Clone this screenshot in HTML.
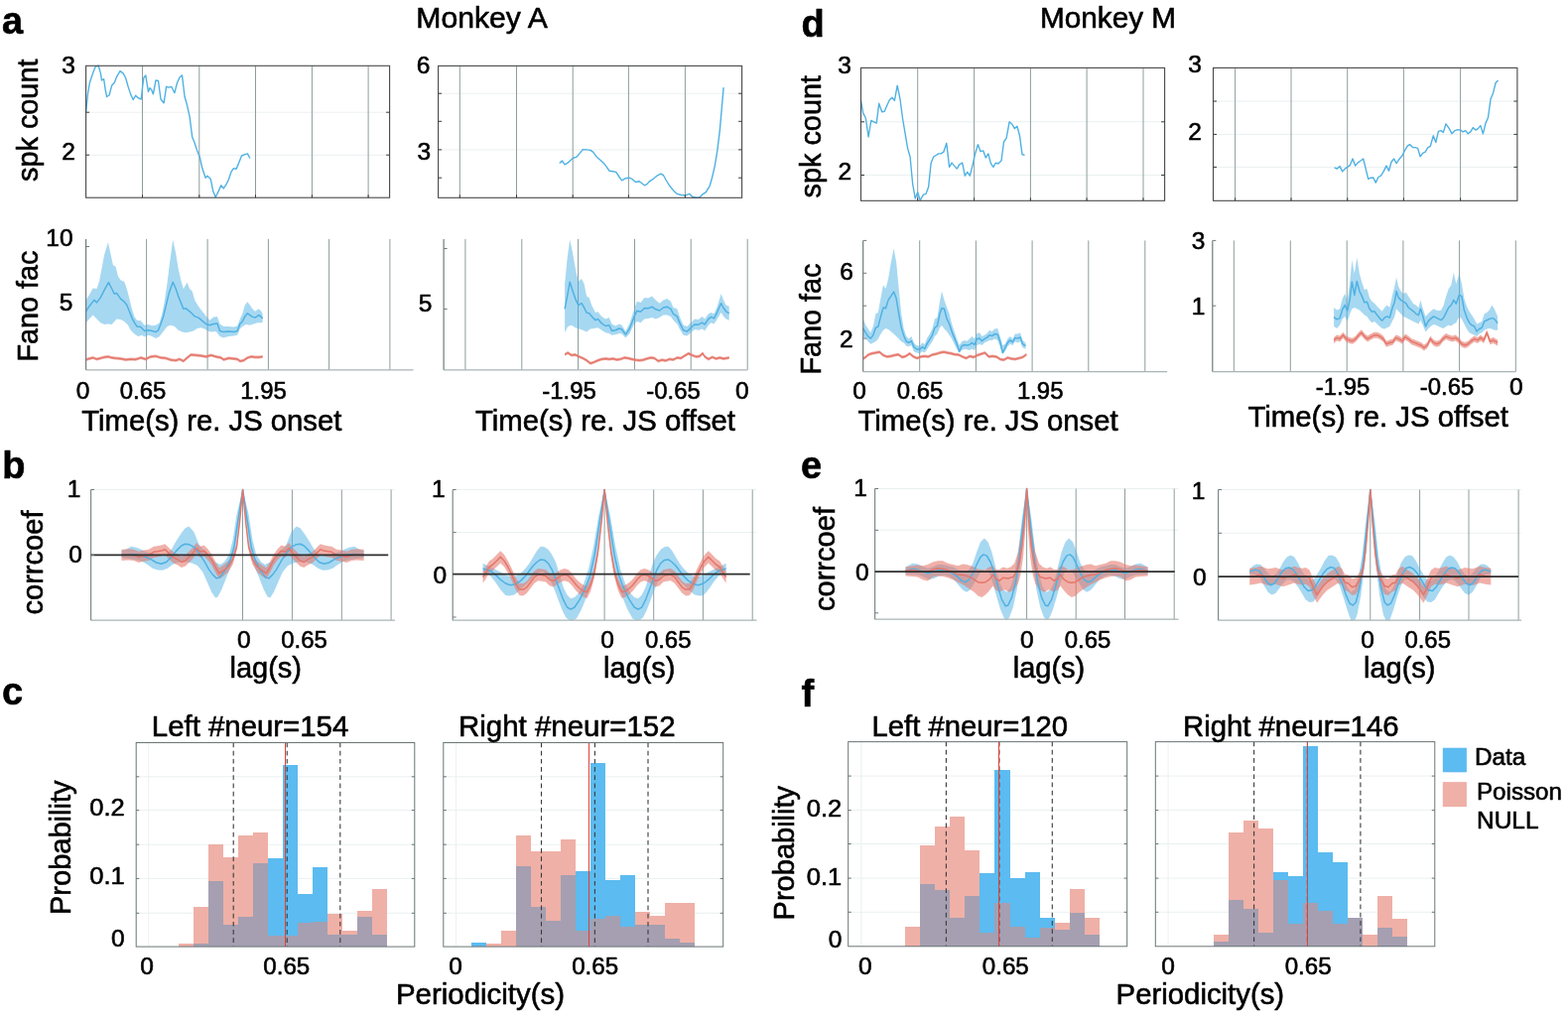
<!DOCTYPE html>
<html><head><meta charset="utf-8"><title>Figure</title>
<style>html,body{margin:0;padding:0;background:#fff}svg{display:block}text{font-family:"Liberation Sans",sans-serif;stroke:#000;stroke-width:.6px;stroke-linejoin:round}</style>
</head><body>
<svg width="1580" height="1028" viewBox="0 0 1580 1028">
<rect width="1580" height="1028" fill="#fff"/>
<text x="419.3" y="28.4" font-size="29" text-anchor="start" fill="#000" textLength="132.5" lengthAdjust="spacingAndGlyphs">Monkey A</text>
<text x="1048.0" y="28.4" font-size="29" text-anchor="start" fill="#000" textLength="137.0" lengthAdjust="spacingAndGlyphs">Monkey M</text>
<text x="2.0" y="33.7" font-size="38" text-anchor="start" fill="#000" font-weight="bold">a</text>
<text x="2.2" y="481.8" font-size="38" text-anchor="start" fill="#000" font-weight="bold">b</text>
<text x="2.0" y="709.7" font-size="38" text-anchor="start" fill="#000" font-weight="bold">c</text>
<text x="807.5" y="37.0" font-size="38" text-anchor="start" fill="#000" font-weight="bold">d</text>
<text x="807.0" y="481.7" font-size="38" text-anchor="start" fill="#000" font-weight="bold">e</text>
<text x="807.5" y="711.6" font-size="38" text-anchor="start" fill="#000" font-weight="bold">f</text>
<line x1="86.6" y1="113.2" x2="392.6" y2="113.2" stroke="#eaf0f0" stroke-width="1" />
<line x1="86.6" y1="156.2" x2="392.6" y2="156.2" stroke="#eaf0f0" stroke-width="1" />
<line x1="143.5" y1="66.3" x2="143.5" y2="199.2" stroke="#8f9d9d" stroke-width="1" />
<line x1="200.8" y1="66.3" x2="200.8" y2="199.2" stroke="#8f9d9d" stroke-width="1" />
<line x1="257.5" y1="66.3" x2="257.5" y2="199.2" stroke="#8f9d9d" stroke-width="1" />
<line x1="314.4" y1="66.3" x2="314.4" y2="199.2" stroke="#8f9d9d" stroke-width="1" />
<line x1="371.1" y1="66.3" x2="371.1" y2="199.2" stroke="#8f9d9d" stroke-width="1" />
<polyline points="86.6,112.7 88.6,93.7 90.4,83.5 93.7,73.4 96.2,67.1 99.2,66.3 101.3,73.4 102.5,81.0 104.6,79.7 106.3,91.1 107.6,97.5 110.1,95.7 112.7,86.1 115.2,83.5 117.7,77.2 121.0,71.6 124.1,73.9 126.6,78.5 129.1,87.3 131.6,94.9 134.2,100.5 136.7,96.2 139.2,98.7 142.3,100.0 143.5,88.6 144.8,78.5 146.8,75.9 149.4,92.4 151.1,88.6 152.7,90.6 154.4,94.9 157.0,81.0 159.5,81.5 162.0,100.0 165.1,103.8 167.6,87.3 170.1,88.1 172.7,87.3 175.9,93.7 178.5,83.5 181.0,78.0 183.5,75.9 186.1,97.5 188.6,106.3 191.1,117.7 193.7,138.0 196.2,144.3 198.7,151.9 201.3,158.2 203.8,169.6 207.1,179.2 208.9,177.2 212.2,180.3 214.7,192.4 217.2,198.7 220.3,192.4 222.8,186.8 225.3,189.9 227.8,186.1 230.4,181.0 232.9,173.4 235.4,169.6 238.0,170.4 240.5,164.6 243.5,157.0 246.8,155.7 249.4,154.9 251.9,159.5" fill="none" stroke="#4fb1e3" stroke-width="1.4" stroke-linejoin="round"/>
<rect x="86.6" y="66.3" width="306.0" height="132.9" fill="none" stroke="#484848" stroke-width="1.1"/>
<line x1="86.6" y1="113.2" x2="90.1" y2="113.2" stroke="#3a3a3a" stroke-width="1" />
<line x1="389.1" y1="113.2" x2="392.6" y2="113.2" stroke="#3a3a3a" stroke-width="1" />
<line x1="86.6" y1="156.2" x2="90.1" y2="156.2" stroke="#3a3a3a" stroke-width="1" />
<line x1="389.1" y1="156.2" x2="392.6" y2="156.2" stroke="#3a3a3a" stroke-width="1" />
<line x1="143.5" y1="196.2" x2="143.5" y2="199.2" stroke="#3a3a3a" stroke-width="1" />
<line x1="200.8" y1="196.2" x2="200.8" y2="199.2" stroke="#3a3a3a" stroke-width="1" />
<line x1="257.5" y1="196.2" x2="257.5" y2="199.2" stroke="#3a3a3a" stroke-width="1" />
<line x1="314.4" y1="196.2" x2="314.4" y2="199.2" stroke="#3a3a3a" stroke-width="1" />
<line x1="371.1" y1="196.2" x2="371.1" y2="199.2" stroke="#3a3a3a" stroke-width="1" />
<line x1="441.6" y1="94.2" x2="747.6" y2="94.2" stroke="#eaf0f0" stroke-width="1" />
<line x1="441.6" y1="150.9" x2="747.6" y2="150.9" stroke="#eaf0f0" stroke-width="1" />
<line x1="463.3" y1="66.4" x2="463.3" y2="199.3" stroke="#8f9d9d" stroke-width="1" />
<line x1="520.5" y1="66.4" x2="520.5" y2="199.3" stroke="#8f9d9d" stroke-width="1" />
<line x1="577.2" y1="66.4" x2="577.2" y2="199.3" stroke="#8f9d9d" stroke-width="1" />
<line x1="633.4" y1="66.4" x2="633.4" y2="199.3" stroke="#8f9d9d" stroke-width="1" />
<line x1="690.4" y1="66.4" x2="690.4" y2="199.3" stroke="#8f9d9d" stroke-width="1" />
<polyline points="563.8,164.6 566.3,162.0 569.1,165.8 572.2,164.1 577.2,159.5 581.0,158.2 584.3,154.4 587.3,150.6 591.1,150.9 594.9,151.4 597.5,153.2 601.3,158.2 605.1,161.5 608.9,165.1 611.4,168.4 613.9,172.2 617.7,172.7 620.8,173.4 624.1,178.5 626.6,181.8 630.4,179.7 634.2,179.2 636.7,180.3 640.5,183.5 644.3,182.8 646.8,184.8 649.4,186.8 651.9,185.6 654.4,182.8 658.2,180.3 662.0,177.2 665.8,175.2 668.4,176.5 670.9,181.0 674.7,187.3 678.5,191.9 682.3,195.4 686.1,196.5 691.1,196.7 694.9,195.4 697.5,198.2 701.3,199.2 704.6,199.2 707.6,196.2 711.4,193.7 715.2,187.3 717.7,178.5 720.3,167.1 722.8,151.9 725.3,131.6 727.3,108.9 729.1,88.1" fill="none" stroke="#4fb1e3" stroke-width="1.4" stroke-linejoin="round"/>
<rect x="441.6" y="66.4" width="306.0" height="132.9" fill="none" stroke="#484848" stroke-width="1.1"/>
<line x1="441.6" y1="94.2" x2="445.1" y2="94.2" stroke="#3a3a3a" stroke-width="1" />
<line x1="744.1" y1="94.2" x2="747.6" y2="94.2" stroke="#3a3a3a" stroke-width="1" />
<line x1="441.6" y1="122.3" x2="445.1" y2="122.3" stroke="#3a3a3a" stroke-width="1" />
<line x1="744.1" y1="122.3" x2="747.6" y2="122.3" stroke="#3a3a3a" stroke-width="1" />
<line x1="441.6" y1="150.9" x2="445.1" y2="150.9" stroke="#3a3a3a" stroke-width="1" />
<line x1="744.1" y1="150.9" x2="747.6" y2="150.9" stroke="#3a3a3a" stroke-width="1" />
<line x1="441.6" y1="179.2" x2="445.1" y2="179.2" stroke="#3a3a3a" stroke-width="1" />
<line x1="744.1" y1="179.2" x2="747.6" y2="179.2" stroke="#3a3a3a" stroke-width="1" />
<line x1="463.3" y1="196.3" x2="463.3" y2="199.3" stroke="#3a3a3a" stroke-width="1" />
<line x1="520.5" y1="196.3" x2="520.5" y2="199.3" stroke="#3a3a3a" stroke-width="1" />
<line x1="577.2" y1="196.3" x2="577.2" y2="199.3" stroke="#3a3a3a" stroke-width="1" />
<line x1="633.4" y1="196.3" x2="633.4" y2="199.3" stroke="#3a3a3a" stroke-width="1" />
<line x1="690.4" y1="196.3" x2="690.4" y2="199.3" stroke="#3a3a3a" stroke-width="1" />
<line x1="867.5" y1="122.8" x2="1173.6" y2="122.8" stroke="#eaf0f0" stroke-width="1" />
<line x1="867.5" y1="176.5" x2="1173.6" y2="176.5" stroke="#eaf0f0" stroke-width="1" />
<line x1="924.7" y1="68.4" x2="924.7" y2="202.3" stroke="#8f9d9d" stroke-width="1" />
<line x1="981.6" y1="68.4" x2="981.6" y2="202.3" stroke="#8f9d9d" stroke-width="1" />
<line x1="1038.4" y1="68.4" x2="1038.4" y2="202.3" stroke="#8f9d9d" stroke-width="1" />
<line x1="1095.1" y1="68.4" x2="1095.1" y2="202.3" stroke="#8f9d9d" stroke-width="1" />
<line x1="1152.0" y1="68.4" x2="1152.0" y2="202.3" stroke="#8f9d9d" stroke-width="1" />
<polyline points="867.5,101.3 869.7,113.9 872.3,119.0 875.1,138.0 877.8,121.5 880.6,122.8 883.2,124.1 885.7,104.3 888.7,112.7 891.3,112.2 893.8,106.3 896.3,100.8 898.9,98.2 901.4,101.3 904.2,86.1 907.0,100.0 909.5,119.0 912.0,134.2 914.6,149.4 917.1,158.2 919.6,184.8 922.2,200.0 924.7,193.7 927.2,202.0 930.5,196.2 933.0,195.4 935.6,188.6 938.1,164.6 940.6,158.2 943.2,156.5 945.7,154.9 948.2,154.9 950.8,153.2 953.8,144.3 956.6,168.4 959.1,164.1 961.6,167.1 964.2,170.1 966.7,165.8 969.7,164.1 972.3,177.2 974.8,173.4 977.3,177.2 979.9,167.1 982.4,155.7 985.4,145.6 988.0,152.7 990.8,151.9 993.3,159.0 995.8,154.9 998.4,164.6 1000.9,168.4 1003.4,164.1 1005.9,165.1 1009.0,162.0 1011.5,143.0 1014.1,139.2 1017.1,122.8 1019.9,125.3 1022.4,129.6 1024.9,127.3 1027.5,136.7 1030.0,155.7 1032.5,156.2" fill="none" stroke="#4fb1e3" stroke-width="1.4" stroke-linejoin="round"/>
<rect x="867.5" y="68.4" width="306.1" height="133.9" fill="none" stroke="#484848" stroke-width="1.1"/>
<line x1="867.5" y1="122.8" x2="871.0" y2="122.8" stroke="#3a3a3a" stroke-width="1" />
<line x1="1170.1" y1="122.8" x2="1173.6" y2="122.8" stroke="#3a3a3a" stroke-width="1" />
<line x1="867.5" y1="176.5" x2="871.0" y2="176.5" stroke="#3a3a3a" stroke-width="1" />
<line x1="1170.1" y1="176.5" x2="1173.6" y2="176.5" stroke="#3a3a3a" stroke-width="1" />
<line x1="924.7" y1="199.3" x2="924.7" y2="202.3" stroke="#3a3a3a" stroke-width="1" />
<line x1="981.6" y1="199.3" x2="981.6" y2="202.3" stroke="#3a3a3a" stroke-width="1" />
<line x1="1038.4" y1="199.3" x2="1038.4" y2="202.3" stroke="#3a3a3a" stroke-width="1" />
<line x1="1095.1" y1="199.3" x2="1095.1" y2="202.3" stroke="#3a3a3a" stroke-width="1" />
<line x1="1152.0" y1="199.3" x2="1152.0" y2="202.3" stroke="#3a3a3a" stroke-width="1" />
<line x1="1222.5" y1="102.0" x2="1528.9" y2="102.0" stroke="#eaf0f0" stroke-width="1" />
<line x1="1222.5" y1="135.4" x2="1528.9" y2="135.4" stroke="#eaf0f0" stroke-width="1" />
<line x1="1222.5" y1="168.4" x2="1528.9" y2="168.4" stroke="#eaf0f0" stroke-width="1" />
<line x1="1244.6" y1="68.4" x2="1244.6" y2="202.3" stroke="#8f9d9d" stroke-width="1" />
<line x1="1301.0" y1="68.4" x2="1301.0" y2="202.3" stroke="#8f9d9d" stroke-width="1" />
<line x1="1357.7" y1="68.4" x2="1357.7" y2="202.3" stroke="#8f9d9d" stroke-width="1" />
<line x1="1414.4" y1="68.4" x2="1414.4" y2="202.3" stroke="#8f9d9d" stroke-width="1" />
<line x1="1471.6" y1="68.4" x2="1471.6" y2="202.3" stroke="#8f9d9d" stroke-width="1" />
<polyline points="1344.6,168.9 1347.1,170.1 1350.1,167.6 1352.7,172.9 1355.2,170.1 1357.7,168.4 1360.3,166.6 1363.0,160.0 1365.6,167.1 1368.1,164.1 1371.1,162.0 1373.7,160.0 1376.2,170.1 1378.7,180.3 1381.3,179.2 1383.8,179.0 1386.3,184.1 1388.9,178.5 1391.4,177.2 1393.9,173.4 1397.0,167.1 1399.5,172.2 1402.0,163.3 1404.6,160.0 1407.1,164.6 1409.6,160.8 1412.9,157.0 1415.4,151.9 1418.0,147.3 1420.5,145.6 1423.5,148.6 1426.1,148.6 1428.6,149.4 1431.1,157.7 1433.7,154.4 1436.2,153.2 1438.7,148.9 1441.3,147.3 1444.3,136.7 1446.8,143.5 1449.4,132.4 1451.9,131.6 1454.4,133.4 1457.0,124.8 1460.0,129.1 1463.0,134.7 1466.1,131.6 1469.1,130.6 1471.6,131.1 1474.2,132.9 1476.7,131.6 1479.2,134.7 1481.8,132.9 1484.3,128.6 1486.8,131.1 1489.4,129.6 1491.9,126.6 1494.4,134.9 1497.0,124.1 1499.5,118.5 1502.0,100.0 1504.6,93.7 1507.1,83.5 1509.6,81.0" fill="none" stroke="#4fb1e3" stroke-width="1.4" stroke-linejoin="round"/>
<rect x="1222.5" y="68.4" width="306.4" height="133.9" fill="none" stroke="#484848" stroke-width="1.1"/>
<line x1="1222.5" y1="102.0" x2="1226.0" y2="102.0" stroke="#3a3a3a" stroke-width="1" />
<line x1="1525.4" y1="102.0" x2="1528.9" y2="102.0" stroke="#3a3a3a" stroke-width="1" />
<line x1="1222.5" y1="135.4" x2="1226.0" y2="135.4" stroke="#3a3a3a" stroke-width="1" />
<line x1="1525.4" y1="135.4" x2="1528.9" y2="135.4" stroke="#3a3a3a" stroke-width="1" />
<line x1="1222.5" y1="168.4" x2="1226.0" y2="168.4" stroke="#3a3a3a" stroke-width="1" />
<line x1="1525.4" y1="168.4" x2="1528.9" y2="168.4" stroke="#3a3a3a" stroke-width="1" />
<line x1="1244.6" y1="199.3" x2="1244.6" y2="202.3" stroke="#3a3a3a" stroke-width="1" />
<line x1="1301.0" y1="199.3" x2="1301.0" y2="202.3" stroke="#3a3a3a" stroke-width="1" />
<line x1="1357.7" y1="199.3" x2="1357.7" y2="202.3" stroke="#3a3a3a" stroke-width="1" />
<line x1="1414.4" y1="199.3" x2="1414.4" y2="202.3" stroke="#3a3a3a" stroke-width="1" />
<line x1="1471.6" y1="199.3" x2="1471.6" y2="202.3" stroke="#3a3a3a" stroke-width="1" />
<text x="75.8" y="74.4" font-size="24.5" text-anchor="end" fill="#000">3</text>
<text x="75.8" y="160.5" font-size="24.5" text-anchor="end" fill="#000">2</text>
<text x="433.4" y="74.0" font-size="24.5" text-anchor="end" fill="#000">6</text>
<text x="434.2" y="160.7" font-size="24.5" text-anchor="end" fill="#000">3</text>
<text x="858.0" y="73.5" font-size="24.5" text-anchor="end" fill="#000">3</text>
<text x="858.2" y="181.0" font-size="24.5" text-anchor="end" fill="#000">2</text>
<text x="1211.0" y="73.2" font-size="24.5" text-anchor="end" fill="#000">3</text>
<text x="1211.0" y="140.8" font-size="24.5" text-anchor="end" fill="#000">2</text>
<text x="38.2" y="183.0" font-size="29.5" text-anchor="start" fill="#000" textLength="123.5" lengthAdjust="spacingAndGlyphs" transform="rotate(-90 38.2 183.0)">spk count</text>
<text x="826.5" y="199.5" font-size="29.5" text-anchor="start" fill="#000" textLength="123.5" lengthAdjust="spacingAndGlyphs" transform="rotate(-90 826.5 199.5)">spk count</text>
<line x1="147.6" y1="240.9" x2="147.6" y2="372.8" stroke="#8f9d9d" stroke-width="1" />
<line x1="209.1" y1="240.9" x2="209.1" y2="372.8" stroke="#8f9d9d" stroke-width="1" />
<line x1="270.4" y1="240.9" x2="270.4" y2="372.8" stroke="#8f9d9d" stroke-width="1" />
<line x1="331.6" y1="240.9" x2="331.6" y2="372.8" stroke="#8f9d9d" stroke-width="1" />
<line x1="392.9" y1="240.9" x2="392.9" y2="372.8" stroke="#8f9d9d" stroke-width="1" />
<polygon points="86.6,302.4 89.9,297.3 93.7,290.5 97.5,291.0 100.0,283.4 102.5,270.8 105.1,256.8 108.9,244.2 111.4,255.6 113.9,267.0 116.5,268.7 119.0,278.4 121.5,282.2 125.3,283.9 127.8,291.0 130.4,301.1 132.9,311.3 135.4,318.9 138.0,322.7 141.8,323.2 145.6,327.7 149.4,327.0 153.2,328.2 157.0,327.7 160.8,325.2 163.3,316.3 165.8,303.7 168.4,285.9 170.9,265.7 174.2,241.6 177.2,255.6 179.7,270.8 182.3,282.2 184.8,291.0 188.6,284.7 191.1,291.0 193.7,293.5 196.2,302.4 200.0,308.7 203.8,313.8 207.6,318.4 211.4,322.7 215.2,319.4 219.0,318.9 221.5,326.5 225.3,329.0 230.4,329.0 235.4,329.5 239.2,328.5 241.8,321.4 244.3,316.3 246.8,307.5 249.4,304.2 251.9,307.5 254.4,311.3 257.0,313.8 260.8,311.3 263.3,313.8 264.6,316.3 264.6,325.2 259.5,325.2 255.7,326.5 251.9,327.7 248.1,327.0 244.3,329.0 241.8,331.5 239.2,337.8 235.4,338.6 230.4,339.1 225.3,340.4 221.5,339.1 217.7,334.1 213.9,334.6 210.1,334.1 206.3,331.5 202.5,330.3 198.7,331.0 194.9,333.5 191.1,334.6 187.3,335.3 183.5,334.6 179.7,332.8 175.9,329.0 172.2,327.7 168.4,329.0 164.6,334.1 160.8,339.1 157.0,341.1 153.2,339.1 149.4,337.8 145.6,339.6 143.0,337.8 139.2,339.1 135.4,336.6 131.6,332.8 129.1,327.7 125.3,323.9 121.5,321.9 117.7,321.4 115.2,323.9 112.7,327.0 108.9,326.5 105.1,327.0 101.3,325.2 97.5,321.4 93.7,317.6 89.9,321.4 86.6,325.2" fill="#4fb1e3" fill-opacity="0.5"/>
<polyline points="86.6,313.8 89.9,308.7 94.9,302.4 97.5,304.9 101.3,299.9 105.1,292.3 109.4,284.7 112.7,291.0 115.2,296.1 117.7,295.6 121.5,301.1 125.3,304.2 127.8,307.5 130.4,313.8 132.9,320.1 135.4,325.2 138.0,329.0 141.8,329.5 145.6,333.5 149.4,332.8 153.2,333.5 157.0,334.6 159.5,332.8 162.0,326.5 164.6,318.9 167.1,308.7 170.1,296.1 174.2,284.2 177.2,291.0 179.7,298.6 182.3,304.9 184.8,311.3 187.3,310.8 191.1,313.8 193.7,316.3 196.2,318.9 200.0,320.1 203.8,323.4 207.6,326.5 211.4,327.7 215.2,326.5 219.0,325.9 221.5,333.5 225.3,334.6 230.4,334.1 235.4,334.6 239.2,333.5 241.8,326.5 244.3,323.9 246.8,318.9 249.4,315.8 251.9,317.6 254.4,319.4 257.0,320.1 260.8,317.6 263.3,319.4 264.6,320.9" fill="none" stroke="#4fb1e3" stroke-width="1.5" stroke-linejoin="round"/>
<polygon points="86.6,360.9 89.9,359.9 93.7,359.1 97.5,360.4 101.3,359.6 105.1,358.4 108.9,357.9 112.7,359.1 116.5,359.6 121.5,359.9 126.6,360.9 131.6,360.4 136.7,360.7 141.8,359.1 146.8,360.4 151.9,357.9 157.0,357.4 162.0,359.1 167.1,359.6 172.2,361.2 177.2,361.7 181.0,360.4 184.8,362.4 188.6,359.1 192.4,356.1 197.5,356.6 202.5,357.1 207.6,357.9 212.7,356.6 217.7,357.9 222.8,359.1 225.3,360.9 230.4,359.6 235.4,359.9 239.2,360.4 241.8,362.4 245.6,361.7 249.4,359.1 253.2,357.9 257.0,358.4 260.8,358.6 264.6,357.9 264.6,360.9 260.8,361.6 257.0,361.4 253.2,360.9 249.4,362.1 245.6,364.7 241.8,365.4 239.2,363.4 235.4,362.9 230.4,362.6 225.3,363.9 222.8,362.1 217.7,360.9 212.7,359.6 207.6,360.9 202.5,360.1 197.5,359.6 192.4,359.1 188.6,362.1 184.8,365.4 181.0,363.4 177.2,364.7 172.2,364.2 167.1,362.6 162.0,362.1 157.0,360.4 151.9,360.9 146.8,363.4 141.8,362.1 136.7,363.7 131.6,363.4 126.6,363.9 121.5,362.9 116.5,362.6 112.7,362.1 108.9,360.9 105.1,361.4 101.3,362.6 97.5,363.4 93.7,362.1 89.9,362.9 86.6,363.9" fill="#e5776b" fill-opacity="0.6"/>
<polyline points="86.6,362.4 89.9,361.4 93.7,360.6 97.5,361.9 101.3,361.1 105.1,359.9 108.9,359.4 112.7,360.6 116.5,361.1 121.5,361.4 126.6,362.4 131.6,361.9 136.7,362.2 141.8,360.6 146.8,361.9 151.9,359.4 157.0,358.9 162.0,360.6 167.1,361.1 172.2,362.7 177.2,363.2 181.0,361.9 184.8,363.9 188.6,360.6 192.4,357.6 197.5,358.1 202.5,358.6 207.6,359.4 212.7,358.1 217.7,359.4 222.8,360.6 225.3,362.4 230.4,361.1 235.4,361.4 239.2,361.9 241.8,363.9 245.6,363.2 249.4,360.6 253.2,359.4 257.0,359.9 260.8,360.1 264.6,359.4" fill="none" stroke="#e5776b" stroke-width="1.5" stroke-linejoin="round"/>
<line x1="86.6" y1="372.8" x2="416.5" y2="372.8" stroke="#a9b4b4" stroke-width="1.3" />
<line x1="86.6" y1="240.9" x2="86.6" y2="372.8" stroke="#707a7c" stroke-width="1.2" />
<line x1="86.6" y1="248.5" x2="90.1" y2="248.5" stroke="#6f7c7c" stroke-width="1" />
<line x1="468.9" y1="240.9" x2="468.9" y2="372.8" stroke="#8f9d9d" stroke-width="1" />
<line x1="525.8" y1="240.9" x2="525.8" y2="372.8" stroke="#8f9d9d" stroke-width="1" />
<line x1="582.5" y1="240.9" x2="582.5" y2="372.8" stroke="#8f9d9d" stroke-width="1" />
<line x1="639.5" y1="240.9" x2="639.5" y2="372.8" stroke="#8f9d9d" stroke-width="1" />
<line x1="696.2" y1="240.9" x2="696.2" y2="372.8" stroke="#8f9d9d" stroke-width="1" />
<line x1="753.2" y1="240.9" x2="753.2" y2="372.8" stroke="#8f9d9d" stroke-width="1" />
<polygon points="569.1,285.9 571.6,260.6 574.2,241.6 577.2,255.6 580.3,273.3 582.8,283.4 586.1,280.9 588.6,285.9 591.1,298.6 593.7,299.9 596.2,307.5 600.0,315.1 602.5,314.3 606.3,318.9 610.1,321.4 613.9,320.1 616.5,326.5 620.3,328.5 624.1,326.5 626.6,327.7 630.4,334.1 634.2,326.5 636.7,318.9 639.2,311.3 641.8,303.7 645.6,304.9 649.4,299.9 653.2,300.6 657.0,298.6 660.8,302.4 664.6,305.7 668.4,302.4 672.2,301.1 675.9,303.7 678.5,310.0 682.3,311.3 684.8,318.9 688.6,327.7 692.4,329.0 696.2,325.2 700.0,321.4 703.8,321.9 707.6,318.9 710.1,321.4 713.9,316.3 716.5,315.1 719.5,316.3 722.8,308.7 726.6,296.1 729.1,302.4 731.6,307.5 734.7,308.7 734.7,322.7 731.6,321.4 729.1,318.9 726.6,315.1 722.8,321.4 719.5,326.5 716.5,325.2 713.9,327.7 710.1,333.5 707.6,331.5 703.8,332.8 700.0,332.0 696.2,335.3 692.4,338.6 688.6,337.8 684.8,331.5 682.3,326.5 678.5,322.7 675.9,318.9 672.2,317.6 668.4,317.6 664.6,320.1 660.8,321.4 657.0,320.1 653.2,320.9 649.4,321.4 645.6,325.2 641.8,323.9 639.2,326.5 636.7,331.5 634.2,336.6 630.4,340.4 626.6,336.6 624.1,336.1 620.3,337.3 616.5,337.8 613.9,336.1 610.1,335.3 606.3,332.8 602.5,330.3 598.7,331.0 594.9,331.5 591.1,334.6 587.3,332.8 583.5,331.5 579.7,330.3 575.9,327.7 572.2,329.0 569.1,335.3" fill="#4fb1e3" fill-opacity="0.5"/>
<polyline points="569.1,311.3 571.6,298.6 574.2,284.2 577.2,293.5 580.3,302.4 582.8,307.5 586.1,305.7 588.6,310.0 591.1,315.1 593.7,315.8 596.2,318.9 600.0,322.7 602.5,321.4 606.3,325.9 610.1,328.5 613.9,327.7 616.5,333.5 620.3,332.8 624.1,331.0 626.6,332.0 630.4,337.1 634.2,331.5 636.7,325.2 639.2,318.9 641.8,313.3 645.6,314.3 649.4,310.5 653.2,310.8 657.0,309.2 660.8,311.8 664.6,313.0 668.4,310.0 672.2,309.2 675.9,311.3 678.5,316.3 682.3,318.9 684.8,325.2 688.6,332.8 692.4,334.1 696.2,330.3 700.0,327.0 703.8,327.2 707.6,325.2 710.1,327.0 713.9,321.4 716.5,319.4 719.5,320.9 722.8,314.3 726.6,305.7 729.1,310.5 731.6,313.8 734.7,315.8" fill="none" stroke="#4fb1e3" stroke-width="1.5" stroke-linejoin="round"/>
<polygon points="569.1,355.8 572.2,354.1 575.9,356.6 579.7,356.1 583.5,357.9 587.3,359.6 591.1,361.7 594.9,364.7 598.7,363.4 602.5,361.7 606.3,360.4 610.1,359.9 613.9,360.4 617.7,359.9 621.5,360.9 625.3,360.4 629.1,359.1 632.9,359.6 636.7,360.4 640.5,361.2 644.3,361.7 648.1,361.2 651.9,359.9 655.7,359.1 659.5,359.6 663.3,362.4 667.1,361.2 670.9,361.9 674.7,360.4 678.5,360.9 682.3,359.1 686.1,359.6 689.9,357.1 693.7,354.8 697.5,356.6 701.3,357.9 705.1,357.4 708.1,354.6 710.1,357.9 713.9,360.4 717.7,358.4 721.5,359.9 725.3,359.1 729.1,359.9 734.7,359.1 734.7,362.1 729.1,362.9 725.3,362.1 721.5,362.9 717.7,361.4 713.9,363.4 710.1,360.9 708.1,357.6 705.1,360.4 701.3,360.9 697.5,359.6 693.7,357.8 689.9,360.1 686.1,362.6 682.3,362.1 678.5,363.9 674.7,363.4 670.9,364.9 667.1,364.2 663.3,365.4 659.5,362.6 655.7,362.1 651.9,362.9 648.1,364.2 644.3,364.7 640.5,364.2 636.7,363.4 632.9,362.6 629.1,362.1 625.3,363.4 621.5,363.9 617.7,362.9 613.9,363.4 610.1,362.9 606.3,363.4 602.5,364.7 598.7,366.4 594.9,367.7 591.1,364.7 587.3,362.6 583.5,360.9 579.7,359.1 575.9,359.6 572.2,357.1 569.1,358.8" fill="#e5776b" fill-opacity="0.6"/>
<polyline points="569.1,357.3 572.2,355.6 575.9,358.1 579.7,357.6 583.5,359.4 587.3,361.1 591.1,363.2 594.9,366.2 598.7,364.9 602.5,363.2 606.3,361.9 610.1,361.4 613.9,361.9 617.7,361.4 621.5,362.4 625.3,361.9 629.1,360.6 632.9,361.1 636.7,361.9 640.5,362.7 644.3,363.2 648.1,362.7 651.9,361.4 655.7,360.6 659.5,361.1 663.3,363.9 667.1,362.7 670.9,363.4 674.7,361.9 678.5,362.4 682.3,360.6 686.1,361.1 689.9,358.6 693.7,356.3 697.5,358.1 701.3,359.4 705.1,358.9 708.1,356.1 710.1,359.4 713.9,361.9 717.7,359.9 721.5,361.4 725.3,360.6 729.1,361.4 734.7,360.6" fill="none" stroke="#e5776b" stroke-width="1.5" stroke-linejoin="round"/>
<line x1="447.1" y1="372.8" x2="753.2" y2="372.8" stroke="#a9b4b4" stroke-width="1.3" />
<line x1="447.1" y1="240.9" x2="447.1" y2="372.8" stroke="#707a7c" stroke-width="1.2" />
<line x1="447.1" y1="250.5" x2="450.6" y2="250.5" stroke="#6f7c7c" stroke-width="1" />
<line x1="447.1" y1="311.5" x2="450.6" y2="311.5" stroke="#6f7c7c" stroke-width="1" />
<line x1="926.7" y1="242.4" x2="926.7" y2="374.6" stroke="#8f9d9d" stroke-width="1" />
<line x1="983.4" y1="242.4" x2="983.4" y2="374.6" stroke="#8f9d9d" stroke-width="1" />
<line x1="1040.1" y1="242.4" x2="1040.1" y2="374.6" stroke="#8f9d9d" stroke-width="1" />
<line x1="1096.8" y1="242.4" x2="1096.8" y2="374.6" stroke="#8f9d9d" stroke-width="1" />
<line x1="1153.8" y1="242.4" x2="1153.8" y2="374.6" stroke="#8f9d9d" stroke-width="1" />
<polygon points="869.7,321.4 872.3,327.7 874.8,331.5 877.3,335.3 879.9,329.0 882.4,316.3 884.9,315.1 887.5,299.9 890.0,287.2 892.5,291.0 895.1,280.9 897.6,265.7 900.6,250.5 903.2,264.4 905.7,291.0 908.2,316.3 910.8,331.5 913.3,339.1 915.8,341.6 918.4,339.1 920.9,345.4 923.4,348.0 926.7,348.7 929.2,345.4 931.8,346.7 934.3,340.4 936.8,336.6 939.4,331.5 941.9,321.4 944.4,320.1 947.0,303.7 949.0,293.5 951.5,302.4 954.1,310.0 956.6,316.3 959.1,326.5 961.6,334.1 964.2,341.6 966.7,348.0 969.2,344.2 971.8,342.9 974.3,343.7 976.8,341.6 979.4,339.1 981.9,341.6 984.4,336.1 987.0,335.3 989.5,339.1 992.0,337.8 994.6,336.1 997.1,332.8 999.6,334.1 1002.2,331.5 1005.2,331.0 1007.7,339.1 1010.3,348.0 1012.8,346.7 1015.3,341.6 1017.8,339.1 1020.4,341.6 1022.9,336.6 1025.4,336.6 1028.0,335.3 1030.5,342.9 1033.5,345.4 1033.5,351.8 1030.5,350.5 1028.0,344.2 1025.4,345.4 1022.9,344.2 1020.4,348.0 1017.8,346.7 1015.3,349.2 1012.8,354.3 1010.3,356.8 1007.7,349.2 1005.2,342.9 1002.2,341.6 999.6,342.9 997.1,342.9 994.6,344.2 992.0,345.4 989.5,348.0 987.0,346.7 984.4,348.0 981.9,353.0 979.4,351.8 976.8,353.0 974.3,352.3 971.8,351.8 969.2,353.0 966.7,355.6 964.2,351.8 961.6,346.7 959.1,341.6 956.6,337.8 954.1,334.1 951.5,331.5 949.0,327.7 947.0,330.3 944.4,336.6 941.9,339.1 939.4,344.2 936.8,348.0 934.3,351.8 931.8,355.6 929.2,354.3 926.7,356.3 923.4,355.6 920.9,354.3 918.4,348.0 915.8,349.2 913.3,348.7 910.8,345.4 908.2,344.2 905.7,341.6 903.2,339.1 900.6,336.6 897.6,334.1 895.1,332.0 892.5,331.0 890.0,332.8 887.5,336.6 884.9,341.6 882.4,344.2 879.9,345.4 877.3,346.7 874.8,344.2 872.3,341.6 869.7,339.1" fill="#4fb1e3" fill-opacity="0.5"/>
<polyline points="869.7,331.0 872.3,335.3 874.8,339.1 877.3,341.1 879.9,337.8 882.4,330.3 884.9,329.0 887.5,318.9 890.0,310.0 892.5,310.8 895.1,302.4 897.6,298.6 900.6,294.1 903.2,301.1 905.7,316.3 908.2,330.3 910.8,338.6 913.3,344.2 915.8,345.4 918.4,343.7 920.9,349.7 923.4,351.8 926.7,352.3 929.2,349.7 931.8,351.3 934.3,346.2 936.8,342.2 939.4,337.8 941.9,330.3 944.4,328.5 947.0,316.3 949.0,310.5 951.5,311.3 954.1,321.4 956.6,326.5 959.1,334.1 961.6,340.4 964.2,346.7 966.7,354.3 969.2,348.7 971.8,347.5 974.3,348.0 976.8,347.5 979.4,345.4 981.9,347.5 984.4,341.6 987.0,341.1 989.5,343.7 992.0,341.6 994.6,340.1 997.1,337.8 999.6,338.6 1002.2,336.6 1005.2,337.1 1007.7,344.2 1010.3,355.6 1012.8,350.5 1015.3,345.4 1017.8,342.9 1020.4,344.9 1022.9,340.4 1025.4,341.1 1028.0,339.9 1030.5,346.7 1033.5,348.7" fill="none" stroke="#4fb1e3" stroke-width="1.5" stroke-linejoin="round"/>
<polygon points="869.7,359.9 872.3,358.4 874.8,356.1 878.6,354.8 882.4,354.1 886.2,353.3 890.0,356.6 893.8,357.9 897.6,357.4 901.4,356.6 905.2,355.8 909.0,358.4 912.8,357.4 916.6,354.8 920.4,357.9 924.2,359.6 928.0,357.9 931.8,357.4 935.6,357.9 939.4,356.1 943.2,355.3 947.0,354.1 950.8,353.3 954.6,354.1 958.4,354.8 962.2,355.8 965.9,356.1 969.7,357.9 973.5,359.6 977.3,357.4 981.1,358.4 984.9,356.6 988.7,355.3 992.5,354.1 996.3,357.9 1000.1,357.4 1003.9,357.9 1007.7,360.4 1011.5,361.2 1015.3,359.1 1019.1,359.9 1022.9,360.4 1026.7,359.6 1030.5,358.4 1034.3,355.8 1034.3,358.8 1030.5,361.4 1026.7,362.6 1022.9,363.4 1019.1,362.9 1015.3,362.1 1011.5,364.2 1007.7,363.4 1003.9,360.9 1000.1,360.4 996.3,360.9 992.5,357.1 988.7,358.3 984.9,359.6 981.1,361.4 977.3,360.4 973.5,362.6 969.7,360.9 965.9,359.1 962.2,358.8 958.4,357.8 954.6,357.1 950.8,356.3 947.0,357.1 943.2,358.3 939.4,359.1 935.6,360.9 931.8,360.4 928.0,360.9 924.2,362.6 920.4,360.9 916.6,357.8 912.8,360.4 909.0,361.4 905.2,358.8 901.4,359.6 897.6,360.4 893.8,360.9 890.0,359.6 886.2,356.3 882.4,357.1 878.6,357.8 874.8,359.1 872.3,361.4 869.7,362.9" fill="#e5776b" fill-opacity="0.6"/>
<polyline points="869.7,361.4 872.3,359.9 874.8,357.6 878.6,356.3 882.4,355.6 886.2,354.8 890.0,358.1 893.8,359.4 897.6,358.9 901.4,358.1 905.2,357.3 909.0,359.9 912.8,358.9 916.6,356.3 920.4,359.4 924.2,361.1 928.0,359.4 931.8,358.9 935.6,359.4 939.4,357.6 943.2,356.8 947.0,355.6 950.8,354.8 954.6,355.6 958.4,356.3 962.2,357.3 965.9,357.6 969.7,359.4 973.5,361.1 977.3,358.9 981.1,359.9 984.9,358.1 988.7,356.8 992.5,355.6 996.3,359.4 1000.1,358.9 1003.9,359.4 1007.7,361.9 1011.5,362.7 1015.3,360.6 1019.1,361.4 1022.9,361.9 1026.7,361.1 1030.5,359.9 1034.3,357.3" fill="none" stroke="#e5776b" stroke-width="1.5" stroke-linejoin="round"/>
<line x1="869.7" y1="374.6" x2="1176.0" y2="374.6" stroke="#a9b4b4" stroke-width="1.3" />
<line x1="869.7" y1="242.4" x2="869.7" y2="374.6" stroke="#707a7c" stroke-width="1.2" />
<line x1="869.7" y1="242.4" x2="873.2" y2="242.4" stroke="#6f7c7c" stroke-width="1" />
<line x1="869.7" y1="275.3" x2="873.2" y2="275.3" stroke="#6f7c7c" stroke-width="1" />
<line x1="869.7" y1="308.2" x2="873.2" y2="308.2" stroke="#6f7c7c" stroke-width="1" />
<line x1="869.7" y1="341.1" x2="873.2" y2="341.1" stroke="#6f7c7c" stroke-width="1" />
<line x1="1243.3" y1="242.4" x2="1243.3" y2="374.6" stroke="#8f9d9d" stroke-width="1" />
<line x1="1300.3" y1="242.4" x2="1300.3" y2="374.6" stroke="#8f9d9d" stroke-width="1" />
<line x1="1357.2" y1="242.4" x2="1357.2" y2="374.6" stroke="#8f9d9d" stroke-width="1" />
<line x1="1413.9" y1="242.4" x2="1413.9" y2="374.6" stroke="#8f9d9d" stroke-width="1" />
<line x1="1470.6" y1="242.4" x2="1470.6" y2="374.6" stroke="#8f9d9d" stroke-width="1" />
<line x1="1527.3" y1="242.4" x2="1527.3" y2="374.6" stroke="#8f9d9d" stroke-width="1" />
<polygon points="1344.1,310.0 1347.1,312.5 1350.1,311.3 1352.7,301.1 1355.2,296.1 1357.7,302.4 1360.3,283.4 1362.3,261.9 1364.8,275.8 1367.3,259.4 1369.9,275.8 1372.4,284.7 1374.9,292.3 1377.5,291.0 1380.0,299.9 1382.5,303.7 1385.1,305.7 1387.6,308.7 1390.1,311.3 1392.7,313.8 1395.2,310.0 1397.7,307.5 1400.3,310.0 1402.8,298.6 1405.3,288.5 1407.1,279.6 1409.1,288.5 1411.6,293.5 1414.2,296.1 1416.7,294.8 1419.2,298.6 1421.8,302.4 1424.3,306.2 1426.8,307.5 1429.4,310.0 1431.4,302.4 1433.9,311.3 1436.5,318.9 1439.0,316.3 1441.5,313.8 1444.6,311.3 1447.1,312.5 1449.6,313.3 1452.2,312.5 1454.7,307.5 1457.2,298.6 1459.7,291.0 1462.3,287.2 1464.8,274.6 1467.3,285.9 1470.4,275.8 1472.9,285.9 1475.4,301.1 1478.0,308.7 1480.5,313.8 1483.0,317.6 1485.6,321.4 1488.1,326.5 1490.6,325.2 1493.2,323.9 1495.7,316.3 1498.2,315.1 1500.8,312.5 1503.3,307.5 1505.8,311.3 1509.1,318.9 1509.1,332.8 1505.8,332.8 1503.3,331.5 1500.8,331.0 1498.2,331.5 1495.7,332.8 1493.2,335.3 1490.6,336.6 1488.1,339.1 1485.6,337.8 1483.0,336.6 1480.5,335.3 1478.0,331.5 1475.4,326.5 1472.9,321.4 1470.4,318.9 1467.3,325.2 1464.8,326.5 1462.3,328.5 1459.7,327.7 1457.2,329.0 1454.7,331.0 1452.2,330.3 1449.6,329.0 1447.1,327.7 1444.6,327.0 1441.5,329.0 1439.0,331.5 1436.5,334.6 1433.9,327.7 1431.4,322.7 1429.4,326.5 1426.8,325.2 1424.3,323.9 1421.8,322.7 1419.2,321.4 1416.7,320.1 1414.2,318.9 1411.6,316.3 1409.1,313.8 1407.1,311.3 1405.3,318.9 1402.8,323.9 1400.3,329.0 1397.7,330.3 1395.2,331.5 1392.7,331.0 1390.1,329.0 1387.6,326.5 1385.1,323.9 1382.5,325.2 1380.0,322.7 1377.5,318.9 1374.9,317.6 1372.4,315.1 1369.9,312.5 1367.3,311.3 1364.8,310.0 1362.3,311.3 1360.3,316.3 1357.7,323.9 1355.2,318.9 1352.7,321.4 1350.1,327.7 1347.1,331.0 1344.1,329.0" fill="#4fb1e3" fill-opacity="0.5"/>
<polyline points="1344.1,319.6 1347.1,321.9 1350.1,320.6 1352.7,311.8 1355.2,307.5 1357.7,313.3 1360.3,301.1 1362.3,283.9 1364.8,297.3 1367.3,283.4 1369.9,293.5 1372.4,298.6 1374.9,304.9 1377.5,304.2 1380.0,311.3 1382.5,314.3 1385.1,313.8 1387.6,317.6 1390.1,320.6 1392.7,323.2 1395.2,320.1 1397.7,318.9 1400.3,320.1 1402.8,311.3 1405.3,304.2 1407.1,293.5 1409.1,299.9 1411.6,302.4 1414.2,304.2 1416.7,305.7 1419.2,310.0 1421.8,311.8 1424.3,313.8 1426.8,316.3 1429.4,317.6 1431.4,311.3 1433.9,318.9 1436.5,329.0 1439.0,323.9 1441.5,321.4 1444.6,318.9 1447.1,320.1 1449.6,321.4 1452.2,322.7 1454.7,320.1 1457.2,315.1 1459.7,310.0 1462.3,307.5 1464.8,302.4 1467.3,306.2 1470.4,297.3 1472.9,298.6 1475.4,312.5 1478.0,320.1 1480.5,325.2 1483.0,327.7 1485.6,329.0 1488.1,334.1 1490.6,331.5 1493.2,330.3 1495.7,323.9 1498.2,322.7 1500.8,321.4 1503.3,320.6 1505.8,321.4 1509.1,325.9" fill="none" stroke="#4fb1e3" stroke-width="1.5" stroke-linejoin="round"/>
<polygon points="1344.1,339.9 1347.1,337.4 1350.1,338.6 1353.4,334.8 1356.5,338.6 1359.7,339.9 1362.8,340.7 1366.1,338.6 1369.1,334.8 1371.9,332.3 1374.9,336.1 1378.0,338.6 1381.3,336.6 1384.6,334.8 1387.6,334.8 1390.6,336.1 1393.9,338.6 1397.0,343.7 1400.3,342.4 1403.3,341.7 1406.6,337.4 1409.6,338.6 1412.9,340.7 1415.9,336.6 1419.2,338.6 1422.3,341.2 1425.6,342.4 1428.6,343.7 1431.9,345.0 1434.9,347.5 1438.2,345.0 1441.3,338.6 1444.6,342.4 1447.6,343.7 1450.9,342.4 1453.9,338.6 1457.2,336.1 1460.3,337.4 1463.5,338.6 1466.6,337.4 1469.9,339.9 1472.9,343.7 1476.2,345.0 1479.2,343.7 1482.5,340.7 1485.6,338.6 1488.9,339.9 1491.9,337.4 1495.2,339.9 1498.2,332.3 1501.5,341.2 1504.6,339.9 1509.1,342.4 1509.1,348.4 1504.6,345.9 1501.5,347.2 1498.2,338.3 1495.2,345.9 1491.9,343.4 1488.9,345.9 1485.6,344.6 1482.5,346.7 1479.2,349.7 1476.2,351.0 1472.9,349.7 1469.9,345.9 1466.6,343.4 1463.5,344.6 1460.3,343.4 1457.2,342.1 1453.9,344.6 1450.9,348.4 1447.6,349.7 1444.6,348.4 1441.3,344.6 1438.2,351.0 1434.9,353.5 1431.9,351.0 1428.6,349.7 1425.6,348.4 1422.3,347.2 1419.2,344.6 1415.9,342.6 1412.9,346.7 1409.6,344.6 1406.6,343.4 1403.3,347.7 1400.3,348.4 1397.0,349.7 1393.9,344.6 1390.6,342.1 1387.6,340.8 1384.6,340.8 1381.3,342.6 1378.0,344.6 1374.9,342.1 1371.9,338.3 1369.1,340.8 1366.1,344.6 1362.8,346.7 1359.7,345.9 1356.5,344.6 1353.4,340.8 1350.1,344.6 1347.1,343.4 1344.1,345.9" fill="#e5776b" fill-opacity="0.6"/>
<polyline points="1344.1,342.9 1347.1,340.4 1350.1,341.6 1353.4,337.8 1356.5,341.6 1359.7,342.9 1362.8,343.7 1366.1,341.6 1369.1,337.8 1371.9,335.3 1374.9,339.1 1378.0,341.6 1381.3,339.6 1384.6,337.8 1387.6,337.8 1390.6,339.1 1393.9,341.6 1397.0,346.7 1400.3,345.4 1403.3,344.7 1406.6,340.4 1409.6,341.6 1412.9,343.7 1415.9,339.6 1419.2,341.6 1422.3,344.2 1425.6,345.4 1428.6,346.7 1431.9,348.0 1434.9,350.5 1438.2,348.0 1441.3,341.6 1444.6,345.4 1447.6,346.7 1450.9,345.4 1453.9,341.6 1457.2,339.1 1460.3,340.4 1463.5,341.6 1466.6,340.4 1469.9,342.9 1472.9,346.7 1476.2,348.0 1479.2,346.7 1482.5,343.7 1485.6,341.6 1488.9,342.9 1491.9,340.4 1495.2,342.9 1498.2,335.3 1501.5,344.2 1504.6,342.9 1509.1,345.4" fill="none" stroke="#e5776b" stroke-width="1.5" stroke-linejoin="round"/>
<line x1="1221.8" y1="374.6" x2="1527.3" y2="374.6" stroke="#a9b4b4" stroke-width="1.3" />
<line x1="1221.8" y1="242.4" x2="1221.8" y2="374.6" stroke="#707a7c" stroke-width="1.2" />
<line x1="1221.8" y1="242.4" x2="1225.3" y2="242.4" stroke="#6f7c7c" stroke-width="1" />
<line x1="1221.8" y1="308.2" x2="1225.3" y2="308.2" stroke="#6f7c7c" stroke-width="1" />
<text x="73.6" y="247.8" font-size="24.5" text-anchor="end" fill="#000">10</text>
<text x="73.3" y="313.0" font-size="24.5" text-anchor="end" fill="#000">5</text>
<text x="435.4" y="314.4" font-size="24.5" text-anchor="end" fill="#000">5</text>
<text x="860.0" y="282.0" font-size="24.5" text-anchor="end" fill="#000">6</text>
<text x="859.6" y="349.6" font-size="24.5" text-anchor="end" fill="#000">2</text>
<text x="1214.4" y="250.6" font-size="24.5" text-anchor="end" fill="#000">3</text>
<text x="1214.5" y="316.8" font-size="24.5" text-anchor="end" fill="#000">1</text>
<text x="38.2" y="364.6" font-size="29.5" text-anchor="start" fill="#000" textLength="112.0" lengthAdjust="spacingAndGlyphs" transform="rotate(-90 38.2 364.6)">Fano fac</text>
<text x="827.0" y="377.5" font-size="29.5" text-anchor="start" fill="#000" textLength="112.0" lengthAdjust="spacingAndGlyphs" transform="rotate(-90 827.0 377.5)">Fano fac</text>
<text x="83.6" y="401.9" font-size="24.5" text-anchor="middle" fill="#000">0</text>
<text x="144.0" y="401.9" font-size="24.5" text-anchor="middle" fill="#000" textLength="46.5" lengthAdjust="spacingAndGlyphs">0.65</text>
<text x="265.5" y="401.9" font-size="24.5" text-anchor="middle" fill="#000" textLength="46.5" lengthAdjust="spacingAndGlyphs">1.95</text>
<text x="573.5" y="401.9" font-size="24.5" text-anchor="middle" fill="#000" textLength="54.5" lengthAdjust="spacingAndGlyphs">-1.95</text>
<text x="678.5" y="401.9" font-size="24.5" text-anchor="middle" fill="#000" textLength="54.5" lengthAdjust="spacingAndGlyphs">-0.65</text>
<text x="747.8" y="401.9" font-size="24.5" text-anchor="middle" fill="#000">0</text>
<text x="866.0" y="402.0" font-size="24.5" text-anchor="middle" fill="#000">0</text>
<text x="927.0" y="402.0" font-size="24.5" text-anchor="middle" fill="#000" textLength="46.5" lengthAdjust="spacingAndGlyphs">0.65</text>
<text x="1048.2" y="402.0" font-size="24.5" text-anchor="middle" fill="#000" textLength="46.5" lengthAdjust="spacingAndGlyphs">1.95</text>
<text x="1353.0" y="398.0" font-size="24.5" text-anchor="middle" fill="#000" textLength="54.5" lengthAdjust="spacingAndGlyphs">-1.95</text>
<text x="1458.0" y="398.0" font-size="24.5" text-anchor="middle" fill="#000" textLength="54.5" lengthAdjust="spacingAndGlyphs">-0.65</text>
<text x="1527.9" y="398.0" font-size="24.5" text-anchor="middle" fill="#000">0</text>
<text x="82.3" y="434.0" font-size="29" text-anchor="start" fill="#000" textLength="262.0" lengthAdjust="spacingAndGlyphs">Time(s) re. JS onset</text>
<text x="479.0" y="434.2" font-size="29" text-anchor="start" fill="#000" textLength="262.0" lengthAdjust="spacingAndGlyphs">Time(s) re. JS offset</text>
<text x="864.6" y="433.6" font-size="29" text-anchor="start" fill="#000" textLength="262.0" lengthAdjust="spacingAndGlyphs">Time(s) re. JS onset</text>
<text x="1257.5" y="430.2" font-size="29" text-anchor="start" fill="#000" textLength="262.5" lengthAdjust="spacingAndGlyphs">Time(s) re. JS offset</text>
<line x1="91.6" y1="493.5" x2="398.0" y2="493.5" stroke="#eaf0f0" stroke-width="1" />
<line x1="244.5" y1="493.5" x2="244.5" y2="625.2" stroke="#8f9d9d" stroke-width="1" />
<line x1="294.4" y1="493.5" x2="294.4" y2="625.2" stroke="#8f9d9d" stroke-width="1" />
<line x1="344.3" y1="493.5" x2="344.3" y2="625.2" stroke="#8f9d9d" stroke-width="1" />
<line x1="394.1" y1="493.5" x2="394.1" y2="625.2" stroke="#8f9d9d" stroke-width="1" />
<polygon points="122.5,555.1 127.1,553.8 132.2,550.8 137.2,551.8 142.3,553.8 147.3,556.3 152.4,557.6 157.5,559.4 162.5,560.1 167.6,558.9 172.7,553.8 177.7,544.9 182.8,537.3 186.6,532.3 190.4,530.5 195.4,536.1 200.5,548.7 206.8,556.3 211.9,561.4 217.0,566.5 222.0,569.0 225.8,566.5 230.9,558.9 234.7,543.7 238.5,518.4 244.6,493.5 250.6,518.4 254.4,543.7 258.2,558.9 263.3,566.5 267.1,569.0 272.2,566.5 277.2,561.4 282.3,556.3 288.6,548.7 293.7,536.1 298.7,530.5 302.5,532.3 306.3,537.3 311.4,544.9 316.5,553.8 321.5,558.9 326.6,560.1 331.6,559.4 336.7,557.6 341.8,556.3 346.8,553.8 351.9,551.8 357.0,550.8 362.0,553.8 366.6,555.1 366.6,561.9 362.0,562.7 355.7,563.4 350.6,564.4 345.6,565.9 340.5,569.0 335.4,572.8 330.4,574.6 325.3,574.8 320.3,572.8 315.2,569.0 310.1,567.0 305.1,565.9 300.0,566.5 294.9,567.7 289.9,570.3 284.8,576.6 279.7,588.0 275.9,596.8 272.2,602.4 269.6,601.4 265.8,594.3 260.8,581.6 255.7,569.0 251.9,556.3 248.1,525.9 244.6,493.5 241.0,525.9 237.2,556.3 233.4,569.0 228.4,581.6 223.3,594.3 219.5,601.4 217.0,602.4 213.2,596.8 209.4,588.0 204.3,576.6 199.2,570.3 194.2,567.7 189.1,566.5 184.1,565.9 179.0,567.0 173.9,569.0 168.9,572.8 163.8,574.8 158.7,574.6 153.7,572.8 148.6,569.0 143.5,565.9 138.5,564.4 133.4,563.4 127.1,562.7 122.5,561.9" fill="#4fb1e3" fill-opacity="0.5"/>
<polygon points="122.5,553.8 129.6,553.3 134.7,553.8 139.7,555.8 144.8,554.6 149.9,553.8 154.9,550.8 158.7,550.3 162.5,549.5 166.3,548.2 170.1,552.0 173.9,555.8 179.0,558.4 182.8,560.9 186.6,559.6 190.4,555.8 194.2,552.0 198.0,547.0 201.8,550.8 205.6,549.5 209.4,553.3 213.2,558.4 217.0,565.9 220.8,572.3 224.6,569.7 229.6,565.9 234.7,559.1 238.5,548.3 241.5,524.5 244.6,493.5 247.6,524.5 250.6,548.3 254.4,559.1 259.5,565.9 264.6,569.7 268.4,572.3 272.2,565.9 275.9,558.4 279.7,553.3 283.5,549.5 287.3,550.8 291.1,547.0 294.9,552.0 298.7,555.8 302.5,559.6 306.3,560.9 310.1,558.4 315.2,555.8 319.0,552.0 322.8,548.2 326.6,549.5 330.4,550.3 334.2,550.8 339.2,553.8 344.3,554.6 349.4,555.8 354.4,553.8 359.5,553.3 366.6,553.8 366.6,564.9 359.5,564.4 354.4,564.9 349.4,567.0 344.3,565.7 339.2,564.9 334.2,561.9 330.4,561.4 326.6,560.6 322.8,559.4 319.0,563.2 315.2,567.0 310.1,569.5 306.3,572.0 302.5,570.8 298.7,567.0 294.9,563.2 291.1,558.1 287.3,561.9 283.5,560.6 279.7,564.4 275.9,569.5 272.2,577.1 268.4,583.4 264.6,580.9 259.5,577.1 254.4,568.8 250.6,554.2 247.6,527.4 244.6,493.5 241.5,527.4 238.5,554.2 234.7,568.8 229.6,577.1 224.6,580.9 220.8,583.4 217.0,577.1 213.2,569.5 209.4,564.4 205.6,560.6 201.8,561.9 198.0,558.1 194.2,563.2 190.4,567.0 186.6,570.8 182.8,572.0 179.0,569.5 173.9,567.0 170.1,563.2 166.3,559.4 162.5,560.6 158.7,561.4 154.9,561.9 149.9,564.9 144.8,565.7 139.7,567.0 134.7,564.9 129.6,564.4 122.5,564.9" fill="#e5776b" fill-opacity="0.58"/>
<polyline points="122.5,559.4 127.1,558.9 132.2,558.4 137.2,558.9 142.3,560.1 147.3,561.4 152.4,563.9 157.5,567.0 162.5,568.2 167.6,566.5 172.7,561.4 177.7,555.1 182.8,550.0 186.6,548.2 190.4,548.7 195.4,551.3 200.5,557.6 205.6,565.2 210.6,574.1 214.4,579.1 218.2,582.9 222.0,581.6 227.1,574.1 232.2,563.9 235.9,551.3 239.7,525.9 244.6,493.5 249.4,525.9 253.2,551.3 257.0,563.9 262.0,574.1 267.1,581.6 270.9,582.9 274.7,579.1 278.5,574.1 283.5,565.2 288.6,557.6 293.7,551.3 298.7,548.7 302.5,548.2 306.3,550.0 311.4,555.1 316.5,561.4 321.5,566.5 326.6,568.2 331.6,567.0 336.7,563.9 341.8,561.4 346.8,560.1 351.9,558.9 357.0,558.4 362.0,558.9 366.6,559.4" fill="none" stroke="#4fb1e3" stroke-width="1.5" stroke-linejoin="round"/>
<polyline points="122.5,559.4 129.6,558.9 134.7,559.4 139.7,561.4 144.8,560.1 149.9,559.4 154.9,556.3 158.7,555.8 162.5,555.1 166.3,553.8 170.1,557.6 173.9,561.4 179.0,563.9 182.8,566.5 186.6,565.2 190.4,561.4 194.2,557.6 198.0,552.5 201.8,556.3 205.6,555.1 209.4,558.9 213.2,563.9 217.0,571.5 220.8,577.8 224.6,575.3 229.6,571.5 234.7,563.9 238.5,551.3 241.5,525.9 244.6,493.5 247.6,525.9 250.6,551.3 254.4,563.9 259.5,571.5 264.6,575.3 268.4,577.8 272.2,571.5 275.9,563.9 279.7,558.9 283.5,555.1 287.3,556.3 291.1,552.5 294.9,557.6 298.7,561.4 302.5,565.2 306.3,566.5 310.1,563.9 315.2,561.4 319.0,557.6 322.8,553.8 326.6,555.1 330.4,555.8 334.2,556.3 339.2,559.4 344.3,560.1 349.4,561.4 354.4,559.4 359.5,558.9 366.6,559.4" fill="none" stroke="#e5776b" stroke-width="1.5" stroke-linejoin="round"/>
<line x1="91.6" y1="625.2" x2="398.0" y2="625.2" stroke="#a9b4b4" stroke-width="1.3" />
<line x1="91.6" y1="493.5" x2="91.6" y2="625.2" stroke="#7d898b" stroke-width="1.2" />
<line x1="91.6" y1="559.4" x2="391.2" y2="559.4" stroke="#2e2e2e" stroke-width="1.6" />
<line x1="91.6" y1="493.5" x2="95.1" y2="493.5" stroke="#6f7c7c" stroke-width="1" />
<line x1="91.6" y1="559.4" x2="95.1" y2="559.4" stroke="#6f7c7c" stroke-width="1" />
<line x1="456.2" y1="493.5" x2="762.5" y2="493.5" stroke="#eaf0f0" stroke-width="1" />
<line x1="456.2" y1="536.6" x2="762.5" y2="536.6" stroke="#eaf0f0" stroke-width="1" />
<line x1="609.1" y1="493.5" x2="609.1" y2="625.2" stroke="#8f9d9d" stroke-width="1" />
<line x1="658.7" y1="493.5" x2="658.7" y2="625.2" stroke="#8f9d9d" stroke-width="1" />
<line x1="708.4" y1="493.5" x2="708.4" y2="625.2" stroke="#8f9d9d" stroke-width="1" />
<line x1="758.2" y1="493.5" x2="758.2" y2="625.2" stroke="#8f9d9d" stroke-width="1" />
<polygon points="486.6,567.7 489.1,569.0 494.2,571.5 499.2,574.1 504.3,576.6 509.4,579.6 514.4,581.1 519.5,580.4 524.6,577.8 529.6,572.8 533.4,567.7 537.2,561.4 541.0,555.1 544.8,550.8 548.6,551.3 552.4,553.8 556.2,558.9 560.0,566.5 563.8,579.1 567.6,591.8 571.4,599.4 575.2,603.2 579.0,601.9 582.8,598.1 587.8,589.2 592.9,574.1 598.0,551.3 603.0,520.9 609.1,493.5 615.2,520.9 620.3,551.3 625.3,574.1 630.4,589.2 635.4,598.1 639.2,601.9 643.0,603.2 646.8,599.4 650.6,591.8 654.4,579.1 658.2,566.5 662.0,558.9 665.8,553.8 669.6,551.3 673.4,550.8 677.2,555.1 681.0,561.4 684.8,567.7 688.6,572.8 693.7,577.8 698.7,580.4 703.8,581.1 708.9,579.6 713.9,576.6 719.0,574.1 724.1,571.5 729.1,569.0 731.6,567.7 731.6,576.6 729.1,577.8 724.1,580.4 719.0,586.7 713.9,594.3 708.9,599.9 705.1,600.6 700.0,599.4 694.9,595.6 689.9,590.5 686.1,586.7 682.3,582.9 678.5,579.1 674.7,576.6 670.9,576.1 667.1,579.1 663.3,585.4 659.5,594.3 655.7,604.4 651.9,614.6 648.1,622.2 644.3,625.2 640.5,625.2 637.5,623.4 632.4,614.6 627.3,601.9 622.3,586.7 617.2,563.9 612.7,525.9 609.1,493.5 605.6,525.9 601.0,563.9 595.9,586.7 590.9,601.9 585.8,614.6 580.8,623.4 577.7,625.2 573.9,625.2 570.1,622.2 566.3,614.6 562.5,604.4 558.7,594.3 554.9,585.4 551.1,579.1 547.3,576.1 543.5,576.6 539.7,579.1 535.9,582.9 532.2,586.7 528.4,590.5 523.3,595.6 518.2,599.4 513.2,600.6 509.4,599.9 504.3,594.3 499.2,586.7 494.2,580.4 489.1,577.8 486.6,576.6" fill="#4fb1e3" fill-opacity="0.5"/>
<polygon points="486.6,575.6 489.1,571.8 492.9,565.4 496.7,562.9 500.5,559.1 504.3,555.3 508.1,559.1 511.9,565.4 515.7,573.0 519.5,581.9 523.3,587.7 527.1,588.2 530.9,585.7 534.7,580.6 538.5,575.6 542.3,573.0 546.1,573.5 549.9,574.3 553.7,578.1 557.5,579.4 561.3,576.8 565.1,574.3 568.9,573.0 572.7,574.3 576.5,578.1 580.3,583.2 584.1,587.0 587.8,589.5 591.6,590.8 595.4,583.2 599.0,571.2 602.5,552.8 606.1,524.3 609.1,493.5 612.2,524.3 615.7,552.8 619.2,571.2 622.8,583.2 626.6,590.8 630.4,589.5 634.2,587.0 638.0,583.2 641.8,578.1 645.6,574.3 649.4,573.0 653.2,574.3 657.0,576.8 660.8,579.4 664.6,578.1 668.4,574.3 672.2,573.5 675.9,573.0 679.7,575.6 683.5,580.6 687.3,585.7 691.1,588.2 694.9,587.7 698.7,581.9 702.5,573.0 706.3,565.4 710.1,559.1 713.9,555.3 717.7,559.1 721.5,562.9 725.3,565.4 729.1,571.8 731.6,575.6 731.6,587.7 729.1,583.9 725.3,577.6 721.5,575.1 717.7,571.3 713.9,567.5 710.1,571.3 706.3,577.6 702.5,585.2 698.7,594.1 694.9,599.9 691.1,600.4 687.3,597.8 683.5,592.8 679.7,587.7 675.9,585.2 672.2,585.7 668.4,586.5 664.6,590.3 660.8,591.5 657.0,589.0 653.2,586.5 649.4,585.2 645.6,586.5 641.8,590.3 638.0,595.3 634.2,599.1 630.4,601.6 626.6,602.9 622.8,595.3 619.2,582.0 615.7,559.8 612.2,527.6 609.1,493.5 606.1,527.6 602.5,559.8 599.0,582.0 595.4,595.3 591.6,602.9 587.8,601.6 584.1,599.1 580.3,595.3 576.5,590.3 572.7,586.5 568.9,585.2 565.1,586.5 561.3,589.0 557.5,591.5 553.7,590.3 549.9,586.5 546.1,585.7 542.3,585.2 538.5,587.7 534.7,592.8 530.9,597.8 527.1,600.4 523.3,599.9 519.5,594.1 515.7,585.2 511.9,577.6 508.1,571.3 504.3,567.5 500.5,571.3 496.7,575.1 492.9,577.6 489.1,583.9 486.6,587.7" fill="#e5776b" fill-opacity="0.58"/>
<polyline points="486.6,572.8 489.1,574.1 494.2,575.3 499.2,579.1 504.3,584.2 509.4,588.0 514.4,589.7 519.5,588.7 524.6,585.4 529.6,580.4 533.4,575.3 537.2,570.3 541.0,566.5 544.8,563.9 548.6,564.4 552.4,567.7 556.2,574.1 560.0,584.2 563.8,594.3 567.6,604.4 571.4,612.0 575.2,614.1 579.0,612.0 584.1,604.4 589.1,594.3 594.2,581.6 599.2,558.9 604.3,525.9 609.1,493.5 613.9,525.9 619.0,558.9 624.1,581.6 629.1,594.3 634.2,604.4 639.2,612.0 643.0,614.1 646.8,612.0 650.6,604.4 654.4,594.3 658.2,584.2 662.0,574.1 665.8,567.7 669.6,564.4 673.4,563.9 677.2,566.5 681.0,570.3 684.8,575.3 688.6,580.4 693.7,585.4 698.7,588.7 703.8,589.7 708.9,588.0 713.9,584.2 719.0,579.1 724.1,575.3 729.1,574.1 731.6,572.8" fill="none" stroke="#4fb1e3" stroke-width="1.5" stroke-linejoin="round"/>
<polyline points="486.6,581.6 489.1,577.8 492.9,571.5 496.7,569.0 500.5,565.2 504.3,561.4 508.1,565.2 511.9,571.5 515.7,579.1 519.5,588.0 523.3,593.8 527.1,594.3 530.9,591.8 534.7,586.7 538.5,581.6 542.3,579.1 546.1,579.6 549.9,580.4 553.7,584.2 557.5,585.4 561.3,582.9 565.1,580.4 568.9,579.1 572.7,580.4 576.5,584.2 580.3,589.2 584.1,593.0 587.8,595.6 591.6,596.8 595.4,589.2 599.0,576.6 602.5,556.3 606.1,525.9 609.1,493.5 612.2,525.9 615.7,556.3 619.2,576.6 622.8,589.2 626.6,596.8 630.4,595.6 634.2,593.0 638.0,589.2 641.8,584.2 645.6,580.4 649.4,579.1 653.2,580.4 657.0,582.9 660.8,585.4 664.6,584.2 668.4,580.4 672.2,579.6 675.9,579.1 679.7,581.6 683.5,586.7 687.3,591.8 691.1,594.3 694.9,593.8 698.7,588.0 702.5,579.1 706.3,571.5 710.1,565.2 713.9,561.4 717.7,565.2 721.5,569.0 725.3,571.5 729.1,577.8 731.6,581.6" fill="none" stroke="#e5776b" stroke-width="1.5" stroke-linejoin="round"/>
<line x1="456.2" y1="625.2" x2="762.5" y2="625.2" stroke="#a9b4b4" stroke-width="1.3" />
<line x1="456.2" y1="493.5" x2="456.2" y2="625.2" stroke="#7d898b" stroke-width="1.2" />
<line x1="456.2" y1="578.6" x2="755.7" y2="578.6" stroke="#2e2e2e" stroke-width="1.6" />
<line x1="456.2" y1="493.5" x2="459.7" y2="493.5" stroke="#6f7c7c" stroke-width="1" />
<line x1="456.2" y1="536.6" x2="459.7" y2="536.6" stroke="#6f7c7c" stroke-width="1" />
<line x1="456.2" y1="622.0" x2="459.7" y2="622.0" stroke="#6f7c7c" stroke-width="1" />
<line x1="881.6" y1="492.5" x2="1187.5" y2="492.5" stroke="#eaf0f0" stroke-width="1" />
<line x1="881.6" y1="534.3" x2="1187.5" y2="534.3" stroke="#eaf0f0" stroke-width="1" />
<line x1="1034.6" y1="492.5" x2="1034.6" y2="624.2" stroke="#8f9d9d" stroke-width="1" />
<line x1="1084.2" y1="492.5" x2="1084.2" y2="624.2" stroke="#8f9d9d" stroke-width="1" />
<line x1="1133.5" y1="492.5" x2="1133.5" y2="624.2" stroke="#8f9d9d" stroke-width="1" />
<line x1="1183.2" y1="492.5" x2="1183.2" y2="624.2" stroke="#8f9d9d" stroke-width="1" />
<polygon points="912.5,571.5 919.6,567.7 924.7,568.5 929.7,571.0 934.8,572.8 939.9,571.5 944.9,569.0 950.0,569.0 955.1,570.3 960.1,571.5 965.2,574.1 969.0,576.1 972.8,576.6 976.6,574.1 980.4,567.7 984.2,556.3 988.0,546.2 991.8,542.4 995.6,546.2 999.4,556.3 1003.2,571.5 1007.0,586.7 1010.8,594.3 1014.6,596.8 1018.4,591.8 1022.2,579.1 1025.9,556.3 1029.7,523.4 1034.6,492.5 1039.4,523.4 1043.2,556.3 1047.0,579.1 1050.8,591.8 1054.6,596.8 1058.4,594.3 1062.2,586.7 1065.9,571.5 1069.7,556.3 1073.5,546.2 1077.3,542.4 1081.1,546.2 1084.9,556.3 1088.7,567.7 1092.5,574.1 1096.3,576.6 1100.1,576.1 1103.9,574.1 1109.0,571.5 1114.1,570.3 1119.1,569.0 1124.2,569.0 1129.2,571.5 1134.3,572.8 1139.4,571.0 1144.4,568.5 1149.5,567.7 1156.6,571.5 1156.6,579.1 1148.2,579.1 1143.2,579.6 1138.1,581.6 1133.0,584.2 1128.0,582.9 1122.9,580.4 1117.8,579.6 1112.8,581.1 1107.7,584.2 1102.7,590.5 1098.9,594.8 1095.1,596.8 1091.3,594.3 1087.5,588.0 1083.7,581.6 1079.9,575.3 1076.1,574.1 1072.3,577.8 1068.5,588.0 1064.7,601.9 1060.9,614.6 1057.1,623.4 1054.6,624.7 1052.0,622.2 1048.2,612.0 1044.4,594.3 1040.6,566.5 1036.8,525.9 1034.6,492.5 1032.3,525.9 1028.5,566.5 1024.7,594.3 1020.9,612.0 1017.1,622.2 1014.6,624.7 1012.0,623.4 1008.2,614.6 1004.4,601.9 1000.6,588.0 996.8,577.8 993.0,574.1 989.2,575.3 985.4,581.6 981.6,588.0 977.8,594.3 974.1,596.8 970.3,594.8 966.5,590.5 961.4,584.2 956.3,581.1 951.3,579.6 946.2,580.4 941.1,582.9 936.1,584.2 931.0,581.6 925.9,579.6 920.9,579.1 912.5,579.1" fill="#4fb1e3" fill-opacity="0.5"/>
<polygon points="912.5,571.5 919.6,570.3 924.7,569.5 929.7,570.3 934.8,569.0 939.9,566.5 944.9,565.2 950.0,565.2 955.1,567.7 960.1,569.0 965.2,570.3 970.3,568.5 974.1,569.0 977.8,570.3 981.6,571.5 985.4,573.5 989.2,574.1 993.0,574.1 996.8,571.5 1000.6,570.3 1003.2,574.1 1007.0,574.1 1010.8,571.5 1014.6,572.8 1018.4,571.5 1022.2,567.7 1025.9,556.3 1029.7,533.5 1034.6,492.5 1039.4,533.5 1043.2,556.3 1047.0,567.7 1050.8,571.5 1054.6,572.8 1058.4,571.5 1062.2,574.1 1065.9,574.1 1068.5,570.3 1072.3,571.5 1076.1,574.1 1079.9,574.1 1083.7,573.5 1087.5,571.5 1091.3,570.3 1095.1,569.0 1098.9,568.5 1103.9,570.3 1109.0,569.0 1114.1,567.7 1119.1,565.2 1124.2,565.2 1129.2,566.5 1134.3,569.0 1139.4,570.3 1144.4,569.5 1149.5,570.3 1156.6,571.5 1156.6,580.4 1149.5,581.1 1144.4,581.6 1139.4,584.2 1134.3,585.4 1129.2,581.6 1124.2,580.4 1119.1,581.1 1114.1,582.2 1109.0,584.2 1103.9,586.7 1098.9,589.2 1095.1,591.8 1091.3,594.3 1087.5,596.8 1083.7,600.6 1079.9,601.9 1076.1,599.4 1072.3,595.6 1068.5,590.5 1065.9,594.3 1062.2,596.8 1057.1,594.3 1052.0,596.8 1047.0,594.3 1043.2,588.0 1040.6,579.1 1038.1,561.4 1035.6,531.0 1034.6,492.5 1033.5,531.0 1031.0,561.4 1028.5,579.1 1025.9,588.0 1022.2,594.3 1017.1,596.8 1012.0,594.3 1007.0,596.8 1003.2,594.3 1000.6,590.5 996.8,595.6 993.0,599.4 989.2,601.9 985.4,600.6 981.6,596.8 977.8,594.3 974.1,591.8 970.3,589.2 965.2,586.7 960.1,584.2 955.1,582.2 950.0,581.1 944.9,580.4 939.9,581.6 934.8,585.4 929.7,584.2 924.7,581.6 919.6,581.1 912.5,580.4" fill="#e5776b" fill-opacity="0.58"/>
<polyline points="912.5,575.3 919.6,573.5 924.7,574.1 929.7,576.1 934.8,577.8 939.9,576.6 944.9,574.6 950.0,574.1 955.1,575.3 960.1,577.8 965.2,581.6 969.0,585.4 972.8,586.7 976.6,584.2 980.4,577.8 984.2,569.0 988.0,561.4 991.0,558.9 994.3,560.1 998.1,566.5 1001.9,577.8 1005.7,591.8 1009.5,604.4 1013.3,610.8 1015.8,610.0 1019.6,601.9 1023.4,586.7 1027.2,561.4 1031.0,525.9 1034.6,492.5 1038.1,525.9 1041.9,561.4 1045.7,586.7 1049.5,601.9 1053.3,610.0 1055.8,610.8 1059.6,604.4 1063.4,591.8 1067.2,577.8 1071.0,566.5 1074.8,560.1 1078.1,558.9 1081.1,561.4 1084.9,569.0 1088.7,577.8 1092.5,584.2 1096.3,586.7 1100.1,585.4 1103.9,581.6 1109.0,577.8 1114.1,575.3 1119.1,574.1 1124.2,574.6 1129.2,576.6 1134.3,577.8 1139.4,576.1 1144.4,574.1 1149.5,573.5 1156.6,575.3" fill="none" stroke="#4fb1e3" stroke-width="1.5" stroke-linejoin="round"/>
<polyline points="912.5,575.3 919.6,574.6 924.7,575.3 929.7,576.6 934.8,576.1 939.9,574.1 944.9,572.8 950.0,573.5 955.1,574.6 960.1,576.6 965.2,579.1 970.3,579.6 974.1,580.4 977.8,581.6 981.6,584.2 985.4,586.7 989.2,587.2 993.0,586.7 996.8,584.2 1000.6,579.1 1003.2,582.9 1007.0,585.4 1010.8,582.2 1015.8,582.9 1020.9,581.6 1024.7,575.3 1027.2,566.5 1029.7,551.3 1032.3,525.9 1034.6,492.5 1036.8,525.9 1039.4,551.3 1041.9,566.5 1044.4,575.3 1048.2,581.6 1053.3,582.9 1058.4,582.2 1062.2,585.4 1065.9,582.9 1068.5,579.1 1072.3,584.2 1076.1,586.7 1079.9,587.2 1083.7,586.7 1087.5,584.2 1091.3,581.6 1095.1,580.4 1098.9,579.6 1103.9,579.1 1109.0,576.6 1114.1,574.6 1119.1,573.5 1124.2,572.8 1129.2,574.1 1134.3,576.1 1139.4,576.6 1144.4,575.3 1149.5,574.6 1156.6,575.3" fill="none" stroke="#e5776b" stroke-width="1.5" stroke-linejoin="round"/>
<line x1="881.6" y1="624.2" x2="1187.5" y2="624.2" stroke="#a9b4b4" stroke-width="1.3" />
<line x1="881.6" y1="492.5" x2="881.6" y2="624.2" stroke="#7d898b" stroke-width="1.2" />
<line x1="881.6" y1="576.1" x2="1183.7" y2="576.1" stroke="#2e2e2e" stroke-width="1.6" />
<line x1="881.6" y1="492.5" x2="885.1" y2="492.5" stroke="#6f7c7c" stroke-width="1" />
<line x1="881.6" y1="534.3" x2="885.1" y2="534.3" stroke="#6f7c7c" stroke-width="1" />
<line x1="881.6" y1="617.8" x2="885.1" y2="617.8" stroke="#6f7c7c" stroke-width="1" />
<line x1="1227.6" y1="493.5" x2="1533.0" y2="493.5" stroke="#eaf0f0" stroke-width="1" />
<line x1="1227.6" y1="537.3" x2="1533.0" y2="537.3" stroke="#eaf0f0" stroke-width="1" />
<line x1="1380.8" y1="493.5" x2="1380.8" y2="625.2" stroke="#8f9d9d" stroke-width="1" />
<line x1="1430.6" y1="493.5" x2="1430.6" y2="625.2" stroke="#8f9d9d" stroke-width="1" />
<line x1="1480.0" y1="493.5" x2="1480.0" y2="625.2" stroke="#8f9d9d" stroke-width="1" />
<line x1="1530.1" y1="493.5" x2="1530.1" y2="625.2" stroke="#8f9d9d" stroke-width="1" />
<polygon points="1259.2,574.1 1262.5,570.3 1266.3,568.5 1270.1,569.0 1273.9,572.8 1277.7,577.8 1281.5,580.4 1285.3,579.1 1289.1,574.1 1292.9,566.5 1296.7,561.4 1300.5,559.4 1304.3,561.4 1308.1,567.7 1311.9,575.3 1315.7,581.6 1319.5,585.4 1323.3,584.2 1327.1,579.1 1330.9,572.8 1334.7,565.2 1338.5,560.1 1342.3,559.4 1346.1,561.4 1349.9,567.7 1353.7,579.1 1357.5,591.8 1361.3,596.8 1365.1,594.3 1368.9,581.6 1372.7,558.9 1376.5,523.4 1380.8,493.5 1385.1,523.4 1388.9,558.9 1392.7,581.6 1396.5,594.3 1400.3,596.8 1404.1,591.8 1407.8,579.1 1411.6,567.7 1415.4,561.4 1419.2,559.4 1423.0,560.1 1426.8,565.2 1430.6,572.8 1434.4,579.1 1438.2,584.2 1442.0,585.4 1445.8,581.6 1449.6,575.3 1453.4,567.7 1457.2,561.4 1461.0,559.4 1464.8,561.4 1468.6,566.5 1472.4,574.1 1476.2,579.1 1480.0,580.4 1483.8,577.8 1487.6,572.8 1491.4,569.0 1495.2,568.5 1499.0,570.3 1502.3,574.1 1502.3,579.1 1495.2,579.6 1491.4,582.9 1487.6,590.5 1483.8,596.8 1480.0,599.4 1476.2,598.1 1472.4,593.0 1468.6,588.0 1464.8,584.2 1461.0,584.2 1457.2,586.7 1453.4,591.8 1449.6,598.1 1445.8,604.4 1442.0,607.0 1438.2,606.5 1434.4,601.9 1430.6,595.6 1426.8,589.2 1423.0,585.4 1419.2,582.9 1415.4,584.2 1411.6,590.5 1407.8,601.9 1404.1,614.6 1400.3,625.2 1396.5,625.2 1393.9,619.6 1390.1,599.4 1386.3,569.0 1382.5,525.9 1380.8,493.5 1379.0,525.9 1375.2,569.0 1371.4,599.4 1367.6,619.6 1365.1,625.2 1361.3,625.2 1357.5,614.6 1353.7,601.9 1349.9,590.5 1346.1,584.2 1342.3,582.9 1338.5,585.4 1334.7,589.2 1330.9,595.6 1327.1,601.9 1323.3,606.5 1319.5,607.0 1315.7,604.4 1311.9,598.1 1308.1,591.8 1304.3,586.7 1300.5,584.2 1296.7,584.2 1292.9,588.0 1289.1,593.0 1285.3,598.1 1281.5,599.4 1277.7,596.8 1273.9,590.5 1270.1,582.9 1266.3,579.6 1259.2,579.1" fill="#4fb1e3" fill-opacity="0.5"/>
<polygon points="1259.2,572.8 1265.1,572.0 1270.1,570.8 1273.9,572.0 1277.7,573.3 1281.5,572.8 1285.3,572.0 1289.1,573.3 1292.9,574.6 1296.7,573.3 1300.5,572.0 1304.3,570.8 1308.1,572.0 1311.9,572.8 1315.7,572.0 1319.5,574.6 1323.3,583.4 1327.1,591.0 1329.6,587.2 1333.4,582.2 1337.2,578.4 1341.0,575.8 1344.8,573.3 1348.6,570.8 1352.4,573.3 1354.9,578.4 1358.7,579.6 1362.5,583.4 1366.3,582.2 1370.1,576.4 1373.4,568.7 1375.9,552.8 1378.5,524.3 1380.8,493.5 1383.0,524.3 1385.6,552.8 1388.1,568.7 1391.4,576.4 1395.2,582.2 1399.0,583.4 1402.8,579.6 1406.6,578.4 1409.1,573.3 1412.9,570.8 1416.7,573.3 1420.5,575.8 1424.3,578.4 1428.1,582.2 1431.9,587.2 1434.4,591.0 1438.2,583.4 1442.0,574.6 1445.8,572.0 1449.6,572.8 1453.4,572.0 1457.2,570.8 1461.0,572.0 1464.8,573.3 1468.6,574.6 1472.4,573.3 1476.2,572.0 1480.0,572.8 1483.8,573.3 1487.6,572.0 1491.4,570.8 1496.5,572.0 1502.3,572.8 1502.3,589.5 1496.5,588.7 1491.4,587.5 1487.6,588.7 1483.8,590.0 1480.0,589.5 1476.2,588.7 1472.4,590.0 1468.6,591.3 1464.8,590.0 1461.0,588.7 1457.2,587.5 1453.4,588.7 1449.6,589.5 1445.8,588.7 1442.0,591.3 1438.2,600.1 1434.4,607.7 1431.9,603.9 1428.1,598.9 1424.3,595.1 1420.5,592.5 1416.7,590.0 1412.9,587.5 1409.1,590.0 1406.6,595.1 1402.8,596.3 1399.0,600.1 1395.2,598.9 1391.4,592.0 1388.1,579.4 1385.6,559.9 1383.0,527.6 1380.8,493.5 1378.5,527.6 1375.9,559.9 1373.4,579.4 1370.1,592.0 1366.3,598.9 1362.5,600.1 1358.7,596.3 1354.9,595.1 1352.4,590.0 1348.6,587.5 1344.8,590.0 1341.0,592.5 1337.2,595.1 1333.4,598.9 1329.6,603.9 1327.1,607.7 1323.3,600.1 1319.5,591.3 1315.7,588.7 1311.9,589.5 1308.1,588.7 1304.3,587.5 1300.5,588.7 1296.7,590.0 1292.9,591.3 1289.1,590.0 1285.3,588.7 1281.5,589.5 1277.7,590.0 1273.9,588.7 1270.1,587.5 1265.1,588.7 1259.2,589.5" fill="#e5776b" fill-opacity="0.58"/>
<polyline points="1259.2,576.1 1265.1,574.1 1268.9,575.3 1272.7,580.4 1276.5,586.7 1280.3,589.7 1284.1,588.0 1287.8,582.9 1291.6,576.6 1295.4,572.8 1299.2,572.0 1303.0,574.1 1306.8,579.1 1310.6,585.4 1314.4,591.8 1318.2,595.6 1322.0,594.8 1325.8,590.5 1329.6,584.2 1333.4,577.8 1337.2,573.5 1341.0,571.5 1344.8,572.8 1348.6,579.1 1352.4,588.0 1356.2,599.4 1360.0,608.2 1363.3,610.0 1366.3,607.0 1370.1,591.8 1373.9,563.9 1377.7,525.9 1380.8,493.5 1383.8,525.9 1387.6,563.9 1391.4,591.8 1395.2,607.0 1398.2,610.0 1401.5,608.2 1405.3,599.4 1409.1,588.0 1412.9,579.1 1416.7,572.8 1420.5,571.5 1424.3,573.5 1428.1,577.8 1431.9,584.2 1435.7,590.5 1439.5,594.8 1443.3,595.6 1447.1,591.8 1450.9,585.4 1454.7,579.1 1458.5,574.1 1462.3,572.0 1466.1,572.8 1469.9,576.6 1473.7,582.9 1477.5,588.0 1481.3,589.7 1485.1,586.7 1488.9,580.4 1492.7,575.3 1496.5,574.1 1502.3,576.1" fill="none" stroke="#4fb1e3" stroke-width="1.5" stroke-linejoin="round"/>
<polyline points="1259.2,581.1 1265.1,580.4 1270.1,579.1 1273.9,580.4 1277.7,581.6 1281.5,581.1 1285.3,580.4 1289.1,581.6 1292.9,582.9 1296.7,581.6 1300.5,580.4 1304.3,579.1 1308.1,580.4 1311.9,581.1 1315.7,580.4 1319.5,582.9 1323.3,591.8 1327.1,599.4 1329.6,595.6 1333.4,590.5 1337.2,586.7 1341.0,584.2 1344.8,581.6 1348.6,579.1 1352.4,581.6 1354.9,586.7 1358.7,588.0 1362.5,591.8 1366.3,590.5 1370.1,584.2 1373.4,574.1 1375.9,556.3 1378.5,525.9 1380.8,493.5 1383.0,525.9 1385.6,556.3 1388.1,574.1 1391.4,584.2 1395.2,590.5 1399.0,591.8 1402.8,588.0 1406.6,586.7 1409.1,581.6 1412.9,579.1 1416.7,581.6 1420.5,584.2 1424.3,586.7 1428.1,590.5 1431.9,595.6 1434.4,599.4 1438.2,591.8 1442.0,582.9 1445.8,580.4 1449.6,581.1 1453.4,580.4 1457.2,579.1 1461.0,580.4 1464.8,581.6 1468.6,582.9 1472.4,581.6 1476.2,580.4 1480.0,581.1 1483.8,581.6 1487.6,580.4 1491.4,579.1 1496.5,580.4 1502.3,581.1" fill="none" stroke="#e5776b" stroke-width="1.5" stroke-linejoin="round"/>
<line x1="1227.6" y1="625.2" x2="1533.0" y2="625.2" stroke="#a9b4b4" stroke-width="1.3" />
<line x1="1227.6" y1="493.5" x2="1227.6" y2="625.2" stroke="#7d898b" stroke-width="1.2" />
<line x1="1227.6" y1="581.1" x2="1530.1" y2="581.1" stroke="#2e2e2e" stroke-width="1.6" />
<line x1="1227.6" y1="493.5" x2="1231.1" y2="493.5" stroke="#6f7c7c" stroke-width="1" />
<line x1="1227.6" y1="537.3" x2="1231.1" y2="537.3" stroke="#6f7c7c" stroke-width="1" />
<text x="81.5" y="500.9" font-size="24.5" text-anchor="end" fill="#000">1</text>
<text x="83.0" y="567.3" font-size="24.5" text-anchor="end" fill="#000">0</text>
<text x="448.6" y="500.9" font-size="24.5" text-anchor="end" fill="#000">1</text>
<text x="450.2" y="588.1" font-size="24.5" text-anchor="end" fill="#000">0</text>
<text x="874.0" y="499.6" font-size="24.5" text-anchor="end" fill="#000">1</text>
<text x="875.6" y="584.7" font-size="24.5" text-anchor="end" fill="#000">0</text>
<text x="1214.5" y="502.9" font-size="24.5" text-anchor="end" fill="#000">1</text>
<text x="1215.6" y="590.2" font-size="24.5" text-anchor="end" fill="#000">0</text>
<text x="245.8" y="653.2" font-size="24.5" text-anchor="middle" fill="#000">0</text>
<text x="306.5" y="653.2" font-size="24.5" text-anchor="middle" fill="#000" textLength="46.5" lengthAdjust="spacingAndGlyphs">0.65</text>
<text x="612.0" y="653.2" font-size="24.5" text-anchor="middle" fill="#000">0</text>
<text x="673.2" y="653.2" font-size="24.5" text-anchor="middle" fill="#000" textLength="46.5" lengthAdjust="spacingAndGlyphs">0.65</text>
<text x="1034.8" y="653.2" font-size="24.5" text-anchor="middle" fill="#000">0</text>
<text x="1096.0" y="653.2" font-size="24.5" text-anchor="middle" fill="#000" textLength="46.5" lengthAdjust="spacingAndGlyphs">0.65</text>
<text x="1378.0" y="653.2" font-size="24.5" text-anchor="middle" fill="#000">0</text>
<text x="1438.7" y="653.2" font-size="24.5" text-anchor="middle" fill="#000" textLength="46.5" lengthAdjust="spacingAndGlyphs">0.65</text>
<text x="231.5" y="683.2" font-size="29" text-anchor="start" fill="#000" textLength="72.5" lengthAdjust="spacingAndGlyphs">lag(s)</text>
<text x="608.0" y="683.2" font-size="29" text-anchor="start" fill="#000" textLength="72.5" lengthAdjust="spacingAndGlyphs">lag(s)</text>
<text x="1020.7" y="683.2" font-size="29" text-anchor="start" fill="#000" textLength="72.5" lengthAdjust="spacingAndGlyphs">lag(s)</text>
<text x="1374.0" y="683.2" font-size="29" text-anchor="start" fill="#000" textLength="72.5" lengthAdjust="spacingAndGlyphs">lag(s)</text>
<text x="42.8" y="619.5" font-size="29.5" text-anchor="start" fill="#000" textLength="105.0" lengthAdjust="spacingAndGlyphs" transform="rotate(-90 42.8 619.5)">corrcoef</text>
<text x="840.6" y="616.0" font-size="29.5" text-anchor="start" fill="#000" textLength="105.0" lengthAdjust="spacingAndGlyphs" transform="rotate(-90 840.6 616.0)">corrcoef</text>
<line x1="137.2" y1="782.8" x2="417.8" y2="782.8" stroke="#eaf0f0" stroke-width="1" />
<line x1="137.2" y1="816.6" x2="417.8" y2="816.6" stroke="#eaf0f0" stroke-width="1" />
<line x1="137.2" y1="851.2" x2="417.8" y2="851.2" stroke="#eaf0f0" stroke-width="1" />
<line x1="137.2" y1="885.4" x2="417.8" y2="885.4" stroke="#eaf0f0" stroke-width="1" />
<line x1="137.2" y1="920.3" x2="417.8" y2="920.3" stroke="#eaf0f0" stroke-width="1" />
<line x1="149.7" y1="748.5" x2="149.7" y2="954.1" stroke="#eaf0f0" stroke-width="1" />
<rect x="179.90" y="950.5" width="15.02" height="3.6" fill="#efb0a7" shape-rendering="crispEdges"/>
<rect x="194.92" y="913.6" width="15.02" height="40.5" fill="#efb0a7" shape-rendering="crispEdges"/>
<rect x="194.92" y="950.5" width="15.02" height="3.6" fill="#a59fb1" shape-rendering="crispEdges"/>
<rect x="209.94" y="851.1" width="15.02" height="103.0" fill="#efb0a7" shape-rendering="crispEdges"/>
<rect x="209.94" y="888.0" width="15.02" height="66.1" fill="#a59fb1" shape-rendering="crispEdges"/>
<rect x="224.96" y="863.6" width="15.02" height="90.5" fill="#efb0a7" shape-rendering="crispEdges"/>
<rect x="224.96" y="932.4" width="15.02" height="21.7" fill="#a59fb1" shape-rendering="crispEdges"/>
<rect x="239.98" y="842.3" width="15.02" height="111.8" fill="#efb0a7" shape-rendering="crispEdges"/>
<rect x="239.98" y="923.5" width="15.02" height="30.6" fill="#a59fb1" shape-rendering="crispEdges"/>
<rect x="255.00" y="838.6" width="15.02" height="115.5" fill="#efb0a7" shape-rendering="crispEdges"/>
<rect x="255.00" y="869.9" width="15.02" height="84.2" fill="#a59fb1" shape-rendering="crispEdges"/>
<rect x="270.02" y="865.0" width="15.02" height="89.1" fill="#5cbbf0" shape-rendering="crispEdges"/>
<rect x="270.02" y="942.6" width="15.02" height="11.5" fill="#a59fb1" shape-rendering="crispEdges"/>
<rect x="285.04" y="771.2" width="15.02" height="182.9" fill="#5cbbf0" shape-rendering="crispEdges"/>
<rect x="285.04" y="942.6" width="15.02" height="11.5" fill="#a59fb1" shape-rendering="crispEdges"/>
<rect x="300.06" y="901.1" width="15.02" height="53.0" fill="#5cbbf0" shape-rendering="crispEdges"/>
<rect x="300.06" y="930.1" width="15.02" height="24.0" fill="#a59fb1" shape-rendering="crispEdges"/>
<rect x="315.08" y="874.2" width="15.02" height="79.9" fill="#5cbbf0" shape-rendering="crispEdges"/>
<rect x="315.08" y="929.4" width="15.02" height="24.7" fill="#a59fb1" shape-rendering="crispEdges"/>
<rect x="330.10" y="921.2" width="15.02" height="32.9" fill="#efb0a7" shape-rendering="crispEdges"/>
<rect x="330.10" y="941.6" width="15.02" height="12.5" fill="#a59fb1" shape-rendering="crispEdges"/>
<rect x="345.12" y="937.7" width="15.02" height="16.4" fill="#efb0a7" shape-rendering="crispEdges"/>
<rect x="345.12" y="941.6" width="15.02" height="12.5" fill="#a59fb1" shape-rendering="crispEdges"/>
<rect x="360.14" y="917.6" width="15.02" height="36.5" fill="#efb0a7" shape-rendering="crispEdges"/>
<rect x="360.14" y="923.5" width="15.02" height="30.6" fill="#a59fb1" shape-rendering="crispEdges"/>
<rect x="375.16" y="896.2" width="15.02" height="57.9" fill="#efb0a7" shape-rendering="crispEdges"/>
<rect x="375.16" y="941.6" width="15.02" height="12.5" fill="#a59fb1" shape-rendering="crispEdges"/>
<line x1="235.2" y1="748.5" x2="235.2" y2="954.1" stroke="#3a3a3a" stroke-width="1.1" stroke-dasharray="4.7 3.5"/>
<line x1="289.2" y1="748.5" x2="289.2" y2="954.1" stroke="#3a3a3a" stroke-width="1.1" stroke-dasharray="4.7 3.5"/>
<line x1="342.8" y1="748.5" x2="342.8" y2="954.1" stroke="#3a3a3a" stroke-width="1.1" stroke-dasharray="4.7 3.5"/>
<line x1="287.5" y1="748.5" x2="287.5" y2="954.1" stroke="#e0403a" stroke-width="1" shape-rendering="crispEdges"/>
<rect x="137.2" y="748.5" width="280.6" height="205.6" fill="none" stroke="#6a7676" stroke-width="1"/>
<line x1="137.2" y1="782.8" x2="140.2" y2="782.8" stroke="#6a7676" stroke-width="1" />
<line x1="414.8" y1="782.8" x2="417.8" y2="782.8" stroke="#6a7676" stroke-width="1" />
<line x1="137.2" y1="816.6" x2="140.2" y2="816.6" stroke="#6a7676" stroke-width="1" />
<line x1="414.8" y1="816.6" x2="417.8" y2="816.6" stroke="#6a7676" stroke-width="1" />
<line x1="137.2" y1="851.2" x2="140.2" y2="851.2" stroke="#6a7676" stroke-width="1" />
<line x1="414.8" y1="851.2" x2="417.8" y2="851.2" stroke="#6a7676" stroke-width="1" />
<line x1="137.2" y1="885.4" x2="140.2" y2="885.4" stroke="#6a7676" stroke-width="1" />
<line x1="414.8" y1="885.4" x2="417.8" y2="885.4" stroke="#6a7676" stroke-width="1" />
<line x1="137.2" y1="920.3" x2="140.2" y2="920.3" stroke="#6a7676" stroke-width="1" />
<line x1="414.8" y1="920.3" x2="417.8" y2="920.3" stroke="#6a7676" stroke-width="1" />
<line x1="446.8" y1="782.8" x2="728.7" y2="782.8" stroke="#eaf0f0" stroke-width="1" />
<line x1="446.8" y1="816.6" x2="728.7" y2="816.6" stroke="#eaf0f0" stroke-width="1" />
<line x1="446.8" y1="851.2" x2="728.7" y2="851.2" stroke="#eaf0f0" stroke-width="1" />
<line x1="446.8" y1="885.4" x2="728.7" y2="885.4" stroke="#eaf0f0" stroke-width="1" />
<line x1="446.8" y1="920.3" x2="728.7" y2="920.3" stroke="#eaf0f0" stroke-width="1" />
<line x1="459.6" y1="748.5" x2="459.6" y2="954.1" stroke="#eaf0f0" stroke-width="1" />
<rect x="474.70" y="949.8" width="15.04" height="4.3" fill="#5cbbf0" shape-rendering="crispEdges"/>
<rect x="489.74" y="950.5" width="15.04" height="3.6" fill="#efb0a7" shape-rendering="crispEdges"/>
<rect x="504.78" y="938.3" width="15.04" height="15.8" fill="#efb0a7" shape-rendering="crispEdges"/>
<rect x="519.82" y="841.9" width="15.04" height="112.2" fill="#efb0a7" shape-rendering="crispEdges"/>
<rect x="519.82" y="873.2" width="15.04" height="80.9" fill="#a59fb1" shape-rendering="crispEdges"/>
<rect x="534.86" y="857.7" width="15.04" height="96.4" fill="#efb0a7" shape-rendering="crispEdges"/>
<rect x="534.86" y="913.6" width="15.04" height="40.5" fill="#a59fb1" shape-rendering="crispEdges"/>
<rect x="549.90" y="857.7" width="15.04" height="96.4" fill="#efb0a7" shape-rendering="crispEdges"/>
<rect x="549.90" y="927.5" width="15.04" height="26.6" fill="#a59fb1" shape-rendering="crispEdges"/>
<rect x="564.94" y="845.9" width="15.04" height="108.2" fill="#efb0a7" shape-rendering="crispEdges"/>
<rect x="564.94" y="882.4" width="15.04" height="71.7" fill="#a59fb1" shape-rendering="crispEdges"/>
<rect x="579.98" y="877.5" width="15.04" height="76.6" fill="#5cbbf0" shape-rendering="crispEdges"/>
<rect x="579.98" y="938.3" width="15.04" height="15.8" fill="#a59fb1" shape-rendering="crispEdges"/>
<rect x="595.02" y="768.9" width="15.04" height="185.2" fill="#5cbbf0" shape-rendering="crispEdges"/>
<rect x="595.02" y="926.1" width="15.04" height="28.0" fill="#a59fb1" shape-rendering="crispEdges"/>
<rect x="610.06" y="886.7" width="15.04" height="67.4" fill="#5cbbf0" shape-rendering="crispEdges"/>
<rect x="610.06" y="922.5" width="15.04" height="31.6" fill="#a59fb1" shape-rendering="crispEdges"/>
<rect x="625.10" y="882.1" width="15.04" height="72.0" fill="#5cbbf0" shape-rendering="crispEdges"/>
<rect x="625.10" y="934.4" width="15.04" height="19.7" fill="#a59fb1" shape-rendering="crispEdges"/>
<rect x="640.14" y="918.6" width="15.04" height="35.5" fill="#efb0a7" shape-rendering="crispEdges"/>
<rect x="640.14" y="932.4" width="15.04" height="21.7" fill="#a59fb1" shape-rendering="crispEdges"/>
<rect x="655.18" y="922.5" width="15.04" height="31.6" fill="#efb0a7" shape-rendering="crispEdges"/>
<rect x="655.18" y="932.4" width="15.04" height="21.7" fill="#a59fb1" shape-rendering="crispEdges"/>
<rect x="670.22" y="910.4" width="15.04" height="43.8" fill="#efb0a7" shape-rendering="crispEdges"/>
<rect x="670.22" y="945.5" width="15.04" height="8.6" fill="#a59fb1" shape-rendering="crispEdges"/>
<rect x="685.26" y="910.4" width="15.04" height="43.8" fill="#efb0a7" shape-rendering="crispEdges"/>
<rect x="685.26" y="949.8" width="15.04" height="4.3" fill="#a59fb1" shape-rendering="crispEdges"/>
<line x1="545.5" y1="748.5" x2="545.5" y2="954.1" stroke="#3a3a3a" stroke-width="1.1" stroke-dasharray="4.7 3.5"/>
<line x1="599.4" y1="748.5" x2="599.4" y2="954.1" stroke="#3a3a3a" stroke-width="1.1" stroke-dasharray="4.7 3.5"/>
<line x1="653.0" y1="748.5" x2="653.0" y2="954.1" stroke="#3a3a3a" stroke-width="1.1" stroke-dasharray="4.7 3.5"/>
<line x1="593.5" y1="748.5" x2="593.5" y2="954.1" stroke="#e0403a" stroke-width="1" shape-rendering="crispEdges"/>
<rect x="446.8" y="748.5" width="281.9" height="205.6" fill="none" stroke="#6a7676" stroke-width="1"/>
<line x1="446.8" y1="782.8" x2="449.8" y2="782.8" stroke="#6a7676" stroke-width="1" />
<line x1="725.7" y1="782.8" x2="728.7" y2="782.8" stroke="#6a7676" stroke-width="1" />
<line x1="446.8" y1="816.6" x2="449.8" y2="816.6" stroke="#6a7676" stroke-width="1" />
<line x1="725.7" y1="816.6" x2="728.7" y2="816.6" stroke="#6a7676" stroke-width="1" />
<line x1="446.8" y1="851.2" x2="449.8" y2="851.2" stroke="#6a7676" stroke-width="1" />
<line x1="725.7" y1="851.2" x2="728.7" y2="851.2" stroke="#6a7676" stroke-width="1" />
<line x1="446.8" y1="885.4" x2="449.8" y2="885.4" stroke="#6a7676" stroke-width="1" />
<line x1="725.7" y1="885.4" x2="728.7" y2="885.4" stroke="#6a7676" stroke-width="1" />
<line x1="446.8" y1="920.3" x2="449.8" y2="920.3" stroke="#6a7676" stroke-width="1" />
<line x1="725.7" y1="920.3" x2="728.7" y2="920.3" stroke="#6a7676" stroke-width="1" />
<line x1="854.7" y1="782.1" x2="1135.7" y2="782.1" stroke="#eaf0f0" stroke-width="1" />
<line x1="854.7" y1="816.6" x2="1135.7" y2="816.6" stroke="#eaf0f0" stroke-width="1" />
<line x1="854.7" y1="850.5" x2="1135.7" y2="850.5" stroke="#eaf0f0" stroke-width="1" />
<line x1="854.7" y1="885.1" x2="1135.7" y2="885.1" stroke="#eaf0f0" stroke-width="1" />
<line x1="854.7" y1="919.3" x2="1135.7" y2="919.3" stroke="#eaf0f0" stroke-width="1" />
<line x1="867.9" y1="747.6" x2="867.9" y2="953.8" stroke="#eaf0f0" stroke-width="1" />
<rect x="912.30" y="934.4" width="15.03" height="19.4" fill="#efb0a7" shape-rendering="crispEdges"/>
<rect x="927.33" y="851.8" width="15.03" height="102.0" fill="#efb0a7" shape-rendering="crispEdges"/>
<rect x="927.33" y="890.6" width="15.03" height="63.2" fill="#a59fb1" shape-rendering="crispEdges"/>
<rect x="942.36" y="833.1" width="15.03" height="120.7" fill="#efb0a7" shape-rendering="crispEdges"/>
<rect x="942.36" y="896.6" width="15.03" height="57.2" fill="#a59fb1" shape-rendering="crispEdges"/>
<rect x="957.39" y="823.2" width="15.03" height="130.6" fill="#efb0a7" shape-rendering="crispEdges"/>
<rect x="957.39" y="925.2" width="15.03" height="28.6" fill="#a59fb1" shape-rendering="crispEdges"/>
<rect x="972.42" y="857.1" width="15.03" height="96.7" fill="#efb0a7" shape-rendering="crispEdges"/>
<rect x="972.42" y="902.5" width="15.03" height="51.3" fill="#a59fb1" shape-rendering="crispEdges"/>
<rect x="987.45" y="879.5" width="15.03" height="74.3" fill="#5cbbf0" shape-rendering="crispEdges"/>
<rect x="987.45" y="940.0" width="15.03" height="13.8" fill="#a59fb1" shape-rendering="crispEdges"/>
<rect x="1002.48" y="776.2" width="15.03" height="177.6" fill="#5cbbf0" shape-rendering="crispEdges"/>
<rect x="1002.48" y="910.4" width="15.03" height="43.4" fill="#a59fb1" shape-rendering="crispEdges"/>
<rect x="1017.51" y="885.0" width="15.03" height="68.8" fill="#5cbbf0" shape-rendering="crispEdges"/>
<rect x="1017.51" y="934.1" width="15.03" height="19.7" fill="#a59fb1" shape-rendering="crispEdges"/>
<rect x="1032.54" y="879.1" width="15.03" height="74.7" fill="#5cbbf0" shape-rendering="crispEdges"/>
<rect x="1032.54" y="944.9" width="15.03" height="8.9" fill="#a59fb1" shape-rendering="crispEdges"/>
<rect x="1047.57" y="925.2" width="15.03" height="28.6" fill="#5cbbf0" shape-rendering="crispEdges"/>
<rect x="1047.57" y="935.0" width="15.03" height="18.8" fill="#a59fb1" shape-rendering="crispEdges"/>
<rect x="1062.60" y="930.1" width="15.03" height="23.7" fill="#efb0a7" shape-rendering="crispEdges"/>
<rect x="1062.60" y="936.7" width="15.03" height="17.1" fill="#a59fb1" shape-rendering="crispEdges"/>
<rect x="1077.63" y="895.9" width="15.03" height="57.9" fill="#efb0a7" shape-rendering="crispEdges"/>
<rect x="1077.63" y="919.6" width="15.03" height="34.2" fill="#a59fb1" shape-rendering="crispEdges"/>
<rect x="1092.66" y="925.2" width="15.03" height="28.6" fill="#efb0a7" shape-rendering="crispEdges"/>
<rect x="1092.66" y="942.3" width="15.03" height="11.5" fill="#a59fb1" shape-rendering="crispEdges"/>
<line x1="953.4" y1="747.6" x2="953.4" y2="953.8" stroke="#3a3a3a" stroke-width="1.1" stroke-dasharray="4.7 3.5"/>
<line x1="1006.9" y1="747.6" x2="1006.9" y2="953.8" stroke="#3a3a3a" stroke-width="1.1" stroke-dasharray="4.7 3.5"/>
<line x1="1060.3" y1="747.6" x2="1060.3" y2="953.8" stroke="#3a3a3a" stroke-width="1.1" stroke-dasharray="4.7 3.5"/>
<line x1="1006.5" y1="747.6" x2="1006.5" y2="953.8" stroke="#e0403a" stroke-width="1" shape-rendering="crispEdges"/>
<rect x="854.7" y="747.6" width="281.0" height="206.2" fill="none" stroke="#6a7676" stroke-width="1"/>
<line x1="854.7" y1="782.1" x2="857.7" y2="782.1" stroke="#6a7676" stroke-width="1" />
<line x1="1132.7" y1="782.1" x2="1135.7" y2="782.1" stroke="#6a7676" stroke-width="1" />
<line x1="854.7" y1="816.6" x2="857.7" y2="816.6" stroke="#6a7676" stroke-width="1" />
<line x1="1132.7" y1="816.6" x2="1135.7" y2="816.6" stroke="#6a7676" stroke-width="1" />
<line x1="854.7" y1="850.5" x2="857.7" y2="850.5" stroke="#6a7676" stroke-width="1" />
<line x1="1132.7" y1="850.5" x2="1135.7" y2="850.5" stroke="#6a7676" stroke-width="1" />
<line x1="854.7" y1="885.1" x2="857.7" y2="885.1" stroke="#6a7676" stroke-width="1" />
<line x1="1132.7" y1="885.1" x2="1135.7" y2="885.1" stroke="#6a7676" stroke-width="1" />
<line x1="854.7" y1="919.3" x2="857.7" y2="919.3" stroke="#6a7676" stroke-width="1" />
<line x1="1132.7" y1="919.3" x2="1135.7" y2="919.3" stroke="#6a7676" stroke-width="1" />
<line x1="1164.3" y1="782.1" x2="1445.8" y2="782.1" stroke="#eaf0f0" stroke-width="1" />
<line x1="1164.3" y1="816.6" x2="1445.8" y2="816.6" stroke="#eaf0f0" stroke-width="1" />
<line x1="1164.3" y1="850.5" x2="1445.8" y2="850.5" stroke="#eaf0f0" stroke-width="1" />
<line x1="1164.3" y1="885.1" x2="1445.8" y2="885.1" stroke="#eaf0f0" stroke-width="1" />
<line x1="1164.3" y1="919.3" x2="1445.8" y2="919.3" stroke="#eaf0f0" stroke-width="1" />
<line x1="1177.1" y1="747.6" x2="1177.1" y2="953.8" stroke="#eaf0f0" stroke-width="1" />
<rect x="1222.50" y="942.0" width="15.03" height="11.8" fill="#efb0a7" shape-rendering="crispEdges"/>
<rect x="1222.50" y="949.2" width="15.03" height="4.6" fill="#a59fb1" shape-rendering="crispEdges"/>
<rect x="1237.53" y="838.7" width="15.03" height="115.1" fill="#efb0a7" shape-rendering="crispEdges"/>
<rect x="1237.53" y="907.1" width="15.03" height="46.7" fill="#a59fb1" shape-rendering="crispEdges"/>
<rect x="1252.56" y="826.5" width="15.03" height="127.3" fill="#efb0a7" shape-rendering="crispEdges"/>
<rect x="1252.56" y="916.3" width="15.03" height="37.5" fill="#a59fb1" shape-rendering="crispEdges"/>
<rect x="1267.59" y="834.7" width="15.03" height="119.1" fill="#efb0a7" shape-rendering="crispEdges"/>
<rect x="1267.59" y="940.0" width="15.03" height="13.8" fill="#a59fb1" shape-rendering="crispEdges"/>
<rect x="1282.62" y="878.8" width="15.03" height="75.0" fill="#5cbbf0" shape-rendering="crispEdges"/>
<rect x="1282.62" y="886.7" width="15.03" height="67.1" fill="#a59fb1" shape-rendering="crispEdges"/>
<rect x="1297.65" y="883.4" width="15.03" height="70.4" fill="#5cbbf0" shape-rendering="crispEdges"/>
<rect x="1297.65" y="930.8" width="15.03" height="23.0" fill="#a59fb1" shape-rendering="crispEdges"/>
<rect x="1312.68" y="751.5" width="15.03" height="202.3" fill="#5cbbf0" shape-rendering="crispEdges"/>
<rect x="1312.68" y="910.4" width="15.03" height="43.4" fill="#a59fb1" shape-rendering="crispEdges"/>
<rect x="1327.71" y="859.4" width="15.03" height="94.4" fill="#5cbbf0" shape-rendering="crispEdges"/>
<rect x="1327.71" y="917.9" width="15.03" height="35.9" fill="#a59fb1" shape-rendering="crispEdges"/>
<rect x="1342.74" y="869.3" width="15.03" height="84.5" fill="#5cbbf0" shape-rendering="crispEdges"/>
<rect x="1342.74" y="930.8" width="15.03" height="23.0" fill="#a59fb1" shape-rendering="crispEdges"/>
<rect x="1357.77" y="925.2" width="15.03" height="28.6" fill="#efb0a7" shape-rendering="crispEdges"/>
<rect x="1357.77" y="925.2" width="15.03" height="28.6" fill="#a59fb1" shape-rendering="crispEdges"/>
<rect x="1372.80" y="942.0" width="15.03" height="11.8" fill="#efb0a7" shape-rendering="crispEdges"/>
<rect x="1387.83" y="902.5" width="15.03" height="51.3" fill="#efb0a7" shape-rendering="crispEdges"/>
<rect x="1387.83" y="935.0" width="15.03" height="18.8" fill="#a59fb1" shape-rendering="crispEdges"/>
<rect x="1402.86" y="926.2" width="15.03" height="27.6" fill="#efb0a7" shape-rendering="crispEdges"/>
<rect x="1402.86" y="943.9" width="15.03" height="9.9" fill="#a59fb1" shape-rendering="crispEdges"/>
<line x1="1263.6" y1="747.6" x2="1263.6" y2="953.8" stroke="#3a3a3a" stroke-width="1.1" stroke-dasharray="4.7 3.5"/>
<line x1="1317.4" y1="747.6" x2="1317.4" y2="953.8" stroke="#3a3a3a" stroke-width="1.1" stroke-dasharray="4.7 3.5"/>
<line x1="1370.9" y1="747.6" x2="1370.9" y2="953.8" stroke="#3a3a3a" stroke-width="1.1" stroke-dasharray="4.7 3.5"/>
<line x1="1317.5" y1="747.6" x2="1317.5" y2="953.8" stroke="#e0403a" stroke-width="1" shape-rendering="crispEdges"/>
<rect x="1164.3" y="747.6" width="281.5" height="206.2" fill="none" stroke="#6a7676" stroke-width="1"/>
<line x1="1164.3" y1="782.1" x2="1167.3" y2="782.1" stroke="#6a7676" stroke-width="1" />
<line x1="1442.8" y1="782.1" x2="1445.8" y2="782.1" stroke="#6a7676" stroke-width="1" />
<line x1="1164.3" y1="816.6" x2="1167.3" y2="816.6" stroke="#6a7676" stroke-width="1" />
<line x1="1442.8" y1="816.6" x2="1445.8" y2="816.6" stroke="#6a7676" stroke-width="1" />
<line x1="1164.3" y1="850.5" x2="1167.3" y2="850.5" stroke="#6a7676" stroke-width="1" />
<line x1="1442.8" y1="850.5" x2="1445.8" y2="850.5" stroke="#6a7676" stroke-width="1" />
<line x1="1164.3" y1="885.1" x2="1167.3" y2="885.1" stroke="#6a7676" stroke-width="1" />
<line x1="1442.8" y1="885.1" x2="1445.8" y2="885.1" stroke="#6a7676" stroke-width="1" />
<line x1="1164.3" y1="919.3" x2="1167.3" y2="919.3" stroke="#6a7676" stroke-width="1" />
<line x1="1442.8" y1="919.3" x2="1445.8" y2="919.3" stroke="#6a7676" stroke-width="1" />
<text x="152.8" y="742.0" font-size="29" text-anchor="start" fill="#000" textLength="198.5" lengthAdjust="spacingAndGlyphs">Left #neur=154</text>
<text x="462.0" y="742.0" font-size="29" text-anchor="start" fill="#000" textLength="218.5" lengthAdjust="spacingAndGlyphs">Right #neur=152</text>
<text x="878.6" y="741.8" font-size="29" text-anchor="start" fill="#000" textLength="197.5" lengthAdjust="spacingAndGlyphs">Left #neur=120</text>
<text x="1192.0" y="741.8" font-size="29" text-anchor="start" fill="#000" textLength="217.5" lengthAdjust="spacingAndGlyphs">Right #neur=146</text>
<text x="125.7" y="822.0" font-size="24.5" text-anchor="end" fill="#000" textLength="35.5" lengthAdjust="spacingAndGlyphs">0.2</text>
<text x="125.7" y="890.9" font-size="24.5" text-anchor="end" fill="#000" textLength="35.5" lengthAdjust="spacingAndGlyphs">0.1</text>
<text x="125.7" y="953.8" font-size="24.5" text-anchor="end" fill="#000">0</text>
<text x="848.3" y="823.4" font-size="24.5" text-anchor="end" fill="#000" textLength="35.5" lengthAdjust="spacingAndGlyphs">0.2</text>
<text x="848.3" y="892.1" font-size="24.5" text-anchor="end" fill="#000" textLength="35.5" lengthAdjust="spacingAndGlyphs">0.1</text>
<text x="848.3" y="954.7" font-size="24.5" text-anchor="end" fill="#000">0</text>
<text x="148.0" y="981.7" font-size="24.5" text-anchor="middle" fill="#000">0</text>
<text x="288.8" y="981.7" font-size="24.5" text-anchor="middle" fill="#000" textLength="47.0" lengthAdjust="spacingAndGlyphs">0.65</text>
<text x="459.0" y="981.7" font-size="24.5" text-anchor="middle" fill="#000">0</text>
<text x="599.7" y="981.7" font-size="24.5" text-anchor="middle" fill="#000" textLength="47.0" lengthAdjust="spacingAndGlyphs">0.65</text>
<text x="871.8" y="981.7" font-size="24.5" text-anchor="middle" fill="#000">0</text>
<text x="1013.3" y="981.7" font-size="24.5" text-anchor="middle" fill="#000" textLength="47.0" lengthAdjust="spacingAndGlyphs">0.65</text>
<text x="1177.1" y="981.7" font-size="24.5" text-anchor="middle" fill="#000">0</text>
<text x="1318.2" y="981.7" font-size="24.5" text-anchor="middle" fill="#000" textLength="47.0" lengthAdjust="spacingAndGlyphs">0.65</text>
<text x="399.0" y="1012.4" font-size="29" text-anchor="start" fill="#000" textLength="170.0" lengthAdjust="spacingAndGlyphs">Periodicity(s)</text>
<text x="1124.6" y="1012.4" font-size="29" text-anchor="start" fill="#000" textLength="169.5" lengthAdjust="spacingAndGlyphs">Periodicity(s)</text>
<text x="70.9" y="922.0" font-size="29.5" text-anchor="start" fill="#000" textLength="135.5" lengthAdjust="spacingAndGlyphs" transform="rotate(-90 70.9 922.0)">Probability</text>
<text x="800.2" y="927.4" font-size="29.5" text-anchor="start" fill="#000" textLength="135.5" lengthAdjust="spacingAndGlyphs" transform="rotate(-90 800.2 927.4)">Probability</text>
<rect x="1453.8" y="753.7" width="24.1" height="24.6" fill="#5cbbf0"/>
<rect x="1453.8" y="788.1" width="24.1" height="25" fill="#efb0a7"/>
<text x="1486.0" y="770.5" font-size="24" text-anchor="start" fill="#000" textLength="51.2" lengthAdjust="spacingAndGlyphs">Data</text>
<text x="1488.0" y="806.3" font-size="24" text-anchor="start" fill="#000" textLength="86.0" lengthAdjust="spacingAndGlyphs">Poisson</text>
<text x="1488.0" y="835.2" font-size="24" text-anchor="start" fill="#000" textLength="62.5" lengthAdjust="spacingAndGlyphs">NULL</text>
</svg>
</body></html>
